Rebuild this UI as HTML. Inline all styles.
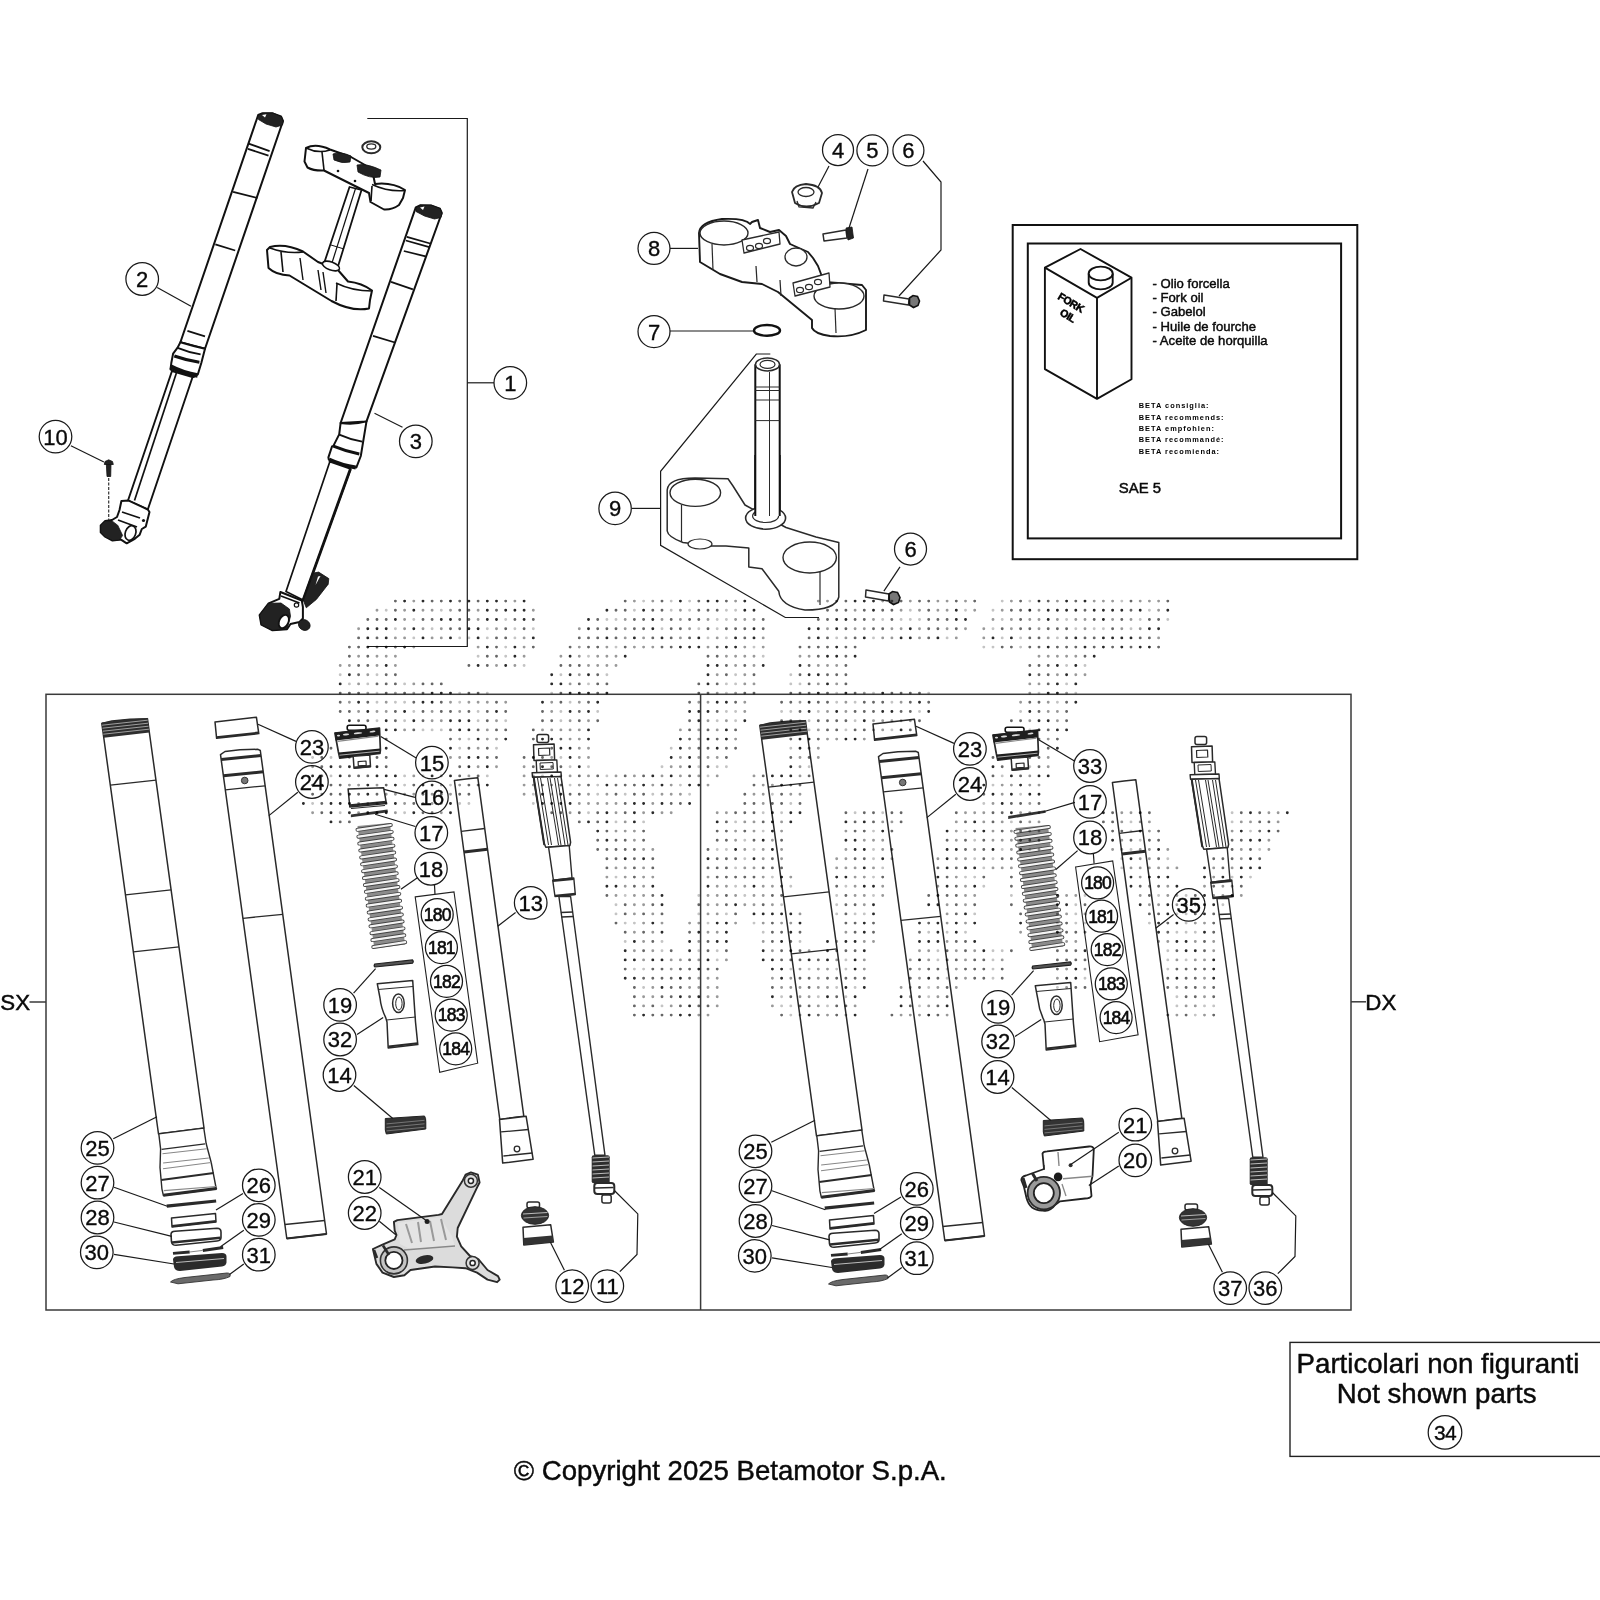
<!DOCTYPE html>
<html><head><meta charset="utf-8"><title>Fork parts diagram</title><style>
html,body{margin:0;padding:0;background:#fff;}
svg{display:block;}
.co{fill:#fff;stroke:#1a1a1a;stroke-width:1.25;}
.cn{font-family:"Liberation Sans",sans-serif;text-anchor:middle;fill:#0a0a0a;stroke:#0a0a0a;stroke-width:0.35;}
.tx{font-family:"Liberation Sans",sans-serif;fill:#0a0a0a;stroke:#0a0a0a;stroke-width:0.45;}
.ld{fill:none;stroke:#1a1a1a;stroke-width:1.2;}
.fr{fill:none;stroke:#3a3a3a;stroke-width:1.5;}
.bx{fill:none;stroke:#111;stroke-width:2;}
.bx2{fill:none;stroke:#222;stroke-width:1.4;}
.bxl{fill:none;stroke:#222;stroke-width:1.1;}
.pt{fill:#fff;stroke:#2a2a2a;stroke-width:1.4;stroke-linejoin:round;}
.wf{fill:#fff;stroke:none;}
.fl{stroke:none;}
.dk{fill:#222;stroke:#111;stroke-width:0.8;}
.ln{fill:none;stroke:#2a2a2a;stroke-width:1.2;}
.lg{fill:none;stroke:#888;stroke-width:1.1;}
.lw{fill:none;stroke:#bbb;stroke-width:1;}
.dsh{fill:none;stroke:#333;stroke-width:1.2;stroke-dasharray:3 1.5;}
.sp ellipse{fill:none;stroke:#3a3a3a;stroke-width:3.8;}
.sp2 ellipse{fill:none;stroke:#f2f2f2;stroke-width:1.3;}
.wm path{fill:none;stroke-width:2.9;stroke-linecap:round;mix-blend-mode:multiply;}
.fk{fill:#fff;stroke:#111;stroke-width:2;stroke-linejoin:round;}
.fkl{fill:none;stroke:#111;stroke-width:1.8;}
.can{fill:none;stroke:#111;stroke-width:1.9;stroke-linejoin:round;}
</style></head>
<body>
<svg width="1600" height="1600" viewBox="0 0 1600 1600">
<defs></defs>
<rect x="46" y="694.3" width="1305" height="615.7" class="fr"/>
<path d="M700.6,694.3 L700.6,1310" class="fr"/>
<path d="M29.5,1002 L46,1002" class="fr"/>
<path d="M1351,1001.8 L1366,1001.8" class="fr"/>
<text x="0.3" y="1010.2" class="tx" style="font-size:22.3px">SX</text>
<text x="1365.3" y="1010.4" class="tx" style="font-size:22.3px">DX</text>
<path d="M367.3,118.5 L467.3,118.5 L467.3,646.5 L367.5,646.5" class="ld"/>
<path d="M467.3,382.8 L494,382.8" class="ld"/>
<circle cx="510.3" cy="382.8" r="16.3" class="co"/>
<text x="510.3" y="390.7" class="cn" style="font-size:22px;letter-spacing:0px">1</text>
<rect x="1012.7" y="225" width="344.6" height="334.2" class="bx"/>
<rect x="1027.8" y="243.5" width="313.3" height="294.9" class="bx"/>
<rect x="1290" y="1342.4" width="330" height="114" class="bx2"/>
<text x="1296.6" y="1372.6" class="tx" style="font-size:27.65px">Particolari non figuranti</text>
<text x="1336.8" y="1403.2" class="tx" style="font-size:27.65px">Not shown parts</text>
<circle cx="1445" cy="1432.4" r="16.8" class="co"/>
<text x="1445" y="1439.9" class="cn" style="font-size:21px;letter-spacing:-0.6px">34</text>
<text x="513.8" y="1480.4" class="tx" style="font-size:27.6px">© Copyright 2025 Betamotor S.p.A.</text>
<path d="M258.2,115 L262,113.3 L272,113.2 L281,116.5 L283,121 L205,348.8 L180.4,342.2Z" class="fk"/>
<path d="M258.5,115.5 L263,113.2 L273,113 L281.5,116.8 L283.2,121.5 L282.5,125 L276,127 L266,124 L258.5,119.5Z" class="dk"/>
<path d="M262,115 L266.5,114.2 L265,117.5Z" fill="#fff"/>
<path d="M248.6,143.6 L269.6,151.1" class="fkl"/>
<path d="M247.9,148.9 L268.5,155.6" class="fkl"/>
<path d="M233.1,191.9 L257.5,198" class="fkl"/>
<path d="M215.3,244.4 L235.2,250.5" class="fkl"/>
<path d="M187.4,330.8 L205,336.4" class="fkl"/>
<path d="M180.4,342.2 L177.6,347.6 L173.1,353.6 L171.3,363 L170.5,369.4 Q180,375.5 193.8,376.9 L197.8,374.5 L201.3,363 L205,348.8 Q193,346 180.4,342.2Z" class="fk"/>
<path d="M177.6,347.8 Q189,352.5 200.6,354.4" class="fkl"/>
<path d="M174.3,356 Q187,360.5 199.4,362.2" class="fkl" style="stroke-width:3"/>
<path d="M170.6,366.5 Q183,373 197.6,375.5" class="fkl" style="stroke-width:4.5"/>
<path d="M172,371 L192.6,377 L147.8,509.5 L128,500.5Z" class="fk" style="stroke-width:1.9;"/>
<path d="M176.4,373 L134.5,500.5" class="fkl" style="stroke-width:1.7"/>
<path d="M121.4,501 L128.7,500.6 L147.8,509.5 L149.5,512 L145.8,526.6 L141.8,529 L139.7,534.7 L134.8,538.8 L126.7,543.3 L121,539.6 L112.5,540.5 L105.2,536.7 L100.7,532.3 L100.7,525.4 L105.2,520.9 L112,520 L117,517 L119.5,510Z" class="fk"/>
<path d="M100.7,525.4 L105.2,520.9 L112,520.9 L117.8,525.4 L122.6,535.5 L119.4,540 L112.5,540.5 L105.2,537 L100.7,532.3Z" class="dk"/>
<ellipse cx="130.5" cy="533" rx="5.2" ry="7.5" transform="rotate(20 130.5 533)" class="fk" style="stroke-width:1.7"/>
<path d="M122,512 L140,518" class="fkl" style="stroke-width:1.8"/>
<path d="M118,520 L137,527" class="fkl" style="stroke-width:1.8"/>
<circle cx="143.5" cy="520.5" r="1.6" fill="#111"/>
<path d="M106.3,463.5 L111,463.5 L110.7,476.5 L107,476.5Z" class="dk"/>
<path d="M104.3,464.5 L105,461.5 L108.7,459.8 L112.5,461.5 L113.3,464.5Z" class="dk"/>
<path d="M108.7,478 L108.7,520" class="dsh"/>
<circle cx="55.5" cy="436.6" r="16.3" class="co"/>
<text x="55.5" y="444.5" class="cn" style="font-size:22px;letter-spacing:0px">10</text>
<path d="M70.9,445.8 L103.9,462" class="ld"/>
<path d="M415.8,207.3 L420,205.3 L431,205.5 L440,208.8 L441.8,213 L366.5,421.4 L340.6,423Z" class="fk"/>
<path d="M416,208 L420.5,205.2 L431,205.1 L440.2,208.6 L442,213.5 L441,217.5 L434.5,219 L424.5,216 L416,211.5Z" class="dk"/>
<path d="M420,207.5 L424.5,206.6 L423,210Z" fill="#fff"/>
<path d="M406.8,236.8 L430.2,243.5" class="fkl"/>
<path d="M405.8,240.5 L429.3,247.2" class="fkl"/>
<path d="M403.8,251 L425.6,256.3" class="fkl"/>
<path d="M391,281.8 L412.9,289.3" class="fkl"/>
<path d="M373,335.8 L394.9,342.5" class="fkl"/>
<path d="M343.8,423.5 L364.2,428.8" class="fkl"/>
<path d="M340.6,423 L339.2,434.4 L333.4,445.9 L332,446.5 L328.4,457.4 L328.8,459.5 Q340,466 356.4,467.4 L360.8,456 L366.5,421.4 Q354,425 340.6,423Z" class="fk"/>
<path d="M339.2,434.6 Q350,439.5 362.2,441.6" class="fkl"/>
<path d="M333.4,446.2 Q346,451.5 359.3,454" class="fkl" style="stroke-width:3"/>
<path d="M329.1,459.5 Q342,465.5 355.7,467.4" class="fkl" style="stroke-width:4"/>
<path d="M329.8,461.7 L350.7,468.9 L303,600 L286,591.5Z" class="fk" style="stroke-width:1.7;"/>
<path d="M350.4,469 L302.8,601" class="fkl" style="stroke-width:2.8"/>
<path d="M313.6,573 L318.6,572.1 L328.8,578.6 L328.2,584.2 L316.4,599.4 L306.3,607.8 L303.4,600.5Z" class="dk"/>
<path d="M318,576.5 L320.5,576 L315.5,585Z" fill="#fff"/>
<path d="M280.4,592 L301.8,600.5 L302.9,607 L302.9,618.5 L299.5,622 L290.5,624 L287,629.2 L272.5,630.3 L261.3,624.7 L259.6,615 L268.6,603.3 L279.3,598.8Z" class="fk"/>
<path d="M259.6,615 L268.6,603.3 L281,603 L289.4,609 L290.5,616.3 L287,629.2 L272.5,630.3 L261.3,624.7Z" class="dk"/>
<ellipse cx="283.8" cy="621.5" rx="4.6" ry="7" transform="rotate(25 283.8 621.5)" class="fk" style="stroke-width:1.8"/>
<path d="M281,596 L299.5,603" class="fkl" style="stroke-width:1.6"/>
<circle cx="296.5" cy="605" r="2.2" class="fk" style="stroke-width:1.2"/>
<ellipse cx="304.3" cy="625" rx="6" ry="5.2" transform="rotate(30 304.3 625)" class="dk"/>
<path d="M306,148 Q316,143 330,149.5 L351,157 L372,169 L375,184 Q392,182 405,190 L403,198 L399,205 Q392,210 384,209.5 L370.5,202 L369,193 L324,170.5 Q314,171 307.5,167.5 L304.5,161.5Z" class="fk"/>
<path d="M306,148 Q318,154 330,150" class="fkl" style="stroke-width:1.5"/>
<path d="M372,184.5 Q388,192 405,190.5" class="fkl" style="stroke-width:1.5"/>
<path d="M322,152 L324,170" class="fkl" style="stroke-width:1.6"/>
<path d="M372,186 L371,201" class="fkl" style="stroke-width:1.6"/>
<path d="M333,154 Q340,151 351,156 L350,162 Q342,164 334,160Z" class="dk"/>
<path d="M357,165 Q366,163 381,170 L380,177 Q370,179 358,172Z" class="dk"/>
<circle cx="338" cy="171" r="1.3" fill="#111"/><circle cx="355" cy="181" r="1.3" fill="#111"/>
<path d="M349.5,187 L361.5,190 L337.5,268 L324,263.5Z" class="fk" style="stroke-width:1.8;"/>
<path d="M355.5,188.5 L331,266" class="fkl" style="stroke-width:1.2"/>
<path d="M331,245 L344,249" class="fkl" style="stroke-width:1"/>
<path d="M270,247 Q285,243 303,251.5 L318,262 L337.5,269.5 L348,281.5 Q362,283 372,290.5 L370,300 L369,308.5 Q352,312 331.5,301 L289.5,275.5 Q276,275 268.5,268 L267,250Z" class="fk"/>
<path d="M270,248 Q286,254 303,252" class="fkl" style="stroke-width:1.5"/>
<path d="M336,283 Q352,291 372,291" class="fkl" style="stroke-width:1.5"/>
<ellipse cx="331" cy="266" rx="9" ry="4" transform="rotate(20 331 266)" class="fk" style="stroke-width:1.6"/>
<path d="M281,252 L283,272" class="fkl" style="stroke-width:1.6"/>
<path d="M300,258 L303,280" class="fkl" style="stroke-width:1.4"/>
<path d="M318,270 L321,290" class="fkl" style="stroke-width:1.4"/>
<path d="M323,272 L326,293" class="fkl" style="stroke-width:1.4"/>
<path d="M337,284 L336,301" class="fkl" style="stroke-width:1.6"/>
<ellipse cx="371.3" cy="147.3" rx="9" ry="6" class="pt" style="stroke-width:2"/>
<ellipse cx="371.3" cy="146.5" rx="4.5" ry="2.6" class="pt" style="stroke-width:1.3"/>
<circle cx="142.2" cy="279" r="16.3" class="co"/>
<text x="142.2" y="286.9" class="cn" style="font-size:22px;letter-spacing:0px">2</text>
<path d="M157.2,287.5 L191,306.3" class="ld"/>
<circle cx="415.8" cy="441.3" r="16.3" class="co"/>
<text x="415.8" y="449.2" class="cn" style="font-size:22px;letter-spacing:0px">3</text>
<path d="M402.5,427.3 L374.5,413.3" class="ld"/>
<circle cx="838" cy="150" r="15.5" class="co"/>
<text x="838" y="157.9" class="cn" style="font-size:22px;letter-spacing:0px">4</text>
<circle cx="872.4" cy="150.4" r="15.5" class="co"/>
<text x="872.4" y="158.3" class="cn" style="font-size:22px;letter-spacing:0px">5</text>
<circle cx="908.4" cy="150.4" r="15.5" class="co"/>
<text x="908.4" y="158.3" class="cn" style="font-size:22px;letter-spacing:0px">6</text>
<path d="M829,166 L817,189" class="ld"/>
<path d="M868,169 L849,228" class="ld"/>
<path d="M923,161 L941,182 L941,250 L899,296" class="ld"/>
<path d="M792,192 Q794,185 806,184 Q820,185 822,193 L819,203 Q806,210 795,203Z" class="pt" style="stroke-width:1.8"/>
<ellipse cx="806" cy="192" rx="8" ry="4.5" class="pt" style="stroke-width:1.3"/>
<path d="M797,201 L799,207 L813,208 L816,202" class="ln" style="stroke-width:1.3"/>
<path d="M823,234 L846,230 L847,238 L824,241Z" class="pt" style="stroke-width:1.5;"/>
<path d="M846,228 L852,227 L853.5,238 L848,240Z" class="dk"/>
<path d="M884,295 L909,299 L908.5,305 L883.5,301Z" class="pt" style="stroke-width:1.5;"/>
<path d="M909.5,298 L913,295.5 L917.5,296.5 L919.5,301 L918,305.5 L913.5,307.5 L909.5,305Z" style="fill:#777;stroke:#111;stroke-width:1.6"/>
<circle cx="654" cy="248.4" r="16" class="co"/>
<text x="654" y="256.3" class="cn" style="font-size:22px;letter-spacing:0px">8</text>
<path d="M670,248.4 L698,248.4" class="ld"/>
<path d="M699,233 Q700,222 722,219 Q745,218 750,224 L752,222 L758,220 L760,228 L770,232 L779,230 L786,236 L790,244 L808,252 L813,258 L818,266 L824,282 L838,283 L862,285 L866,290 L866,330 Q850,338 830,336 Q815,334 812,328 L812,320 L795,306 L778,292 L762,284 L742,282 L720,274 L700,262 Z" class="pt" style="stroke-width:1.9;stroke:#1a1a1a"/>
<ellipse cx="724" cy="233" rx="24" ry="12" class="pt" style="stroke-width:1.4"/>
<ellipse cx="839" cy="296" rx="25" ry="13" class="pt" style="stroke-width:1.4"/>
<path d="M712,244 L713,270" class="ln" style="stroke-width:1.2"/>
<path d="M835,308 L836,333" class="ln" style="stroke-width:1.2"/>
<ellipse cx="796" cy="257" rx="11" ry="9" class="pt" style="stroke-width:1.3"/>
<path d="M742,240 L779,232 L780,244 L744,253Z" class="pt" style="stroke-width:1.3;"/>
<path d="M793,283 L829,273 L830,287 L795,296Z" class="pt" style="stroke-width:1.3;"/>
<ellipse cx="750" cy="248" rx="3.5" ry="2.6" class="pt" style="stroke-width:1.2"/>
<ellipse cx="759" cy="246" rx="3.5" ry="2.6" class="pt" style="stroke-width:1.2"/>
<ellipse cx="767" cy="241" rx="3.5" ry="2.6" class="pt" style="stroke-width:1.2"/>
<ellipse cx="800" cy="290" rx="3.5" ry="2.6" class="pt" style="stroke-width:1.2"/>
<ellipse cx="809" cy="287" rx="3.5" ry="2.6" class="pt" style="stroke-width:1.2"/>
<ellipse cx="818" cy="282" rx="3.5" ry="2.6" class="pt" style="stroke-width:1.2"/>
<path d="M756,266 L757,282" class="ln" style="stroke-width:1.2"/>
<path d="M780,280 L781,296" class="ln" style="stroke-width:1.2"/>
<circle cx="654" cy="331.6" r="16" class="co"/>
<text x="654" y="339.5" class="cn" style="font-size:22px;letter-spacing:0px">7</text>
<path d="M670,331 L754,331" class="ld"/>
<ellipse cx="767" cy="330.4" rx="13" ry="5.4" class="pt" style="stroke-width:2.4;stroke:#111"/>
<path d="M770.3,354 L756.3,354 L660.6,471.3 L660.6,545.3 L785.3,617.5 L819,617.5" class="ld"/>
<path d="M632,508.4 L660.6,508.4" class="ld"/>
<circle cx="615.1" cy="508.4" r="16.2" class="co"/>
<text x="615.1" y="516.3" class="cn" style="font-size:22px;letter-spacing:0px">9</text>
<path d="M755.3,365 L755.3,518 L779.7,518 L779.7,365Z" class="fk" style="stroke-width:2;"/>
<ellipse cx="767.5" cy="364.4" rx="12" ry="6.5" class="pt" style="stroke-width:1.5"/>
<ellipse cx="767.5" cy="364.4" rx="7.5" ry="4" class="pt" style="stroke-width:1.2"/>
<path d="M755.3,387 L779.7,387" class="ln" style="stroke-width:1"/>
<path d="M755.3,390.5 L779.7,390.5" class="ln" style="stroke-width:1"/>
<path d="M755.3,400 L779.7,400" class="ln" style="stroke-width:1"/>
<path d="M755.3,420.6 L779.7,420.6" class="ln" style="stroke-width:1"/>
<path d="M755.3,484.4 L779.7,484.4" class="ln" style="stroke-width:1"/>
<path d="M769.5,372 L769.5,518" class="ln" style="stroke-width:1"/>
<path d="M667.2,490 Q668,478 695,478 L728,478.8 L733,486 L745,505 L786,527.5 L816,537 L838.8,542.5 L838.8,597 Q836,610 805,610 Q780,606 778.8,591.3 L762,568.8 L748.8,567 L748.8,548 L726,546 L711,546 L683,542.5 Q668,537 667.2,531Z" class="pt" style="stroke-width:1.5"/>
<ellipse cx="695.3" cy="492.8" rx="25.3" ry="13.6" class="pt" style="stroke-width:1.4"/>
<ellipse cx="809.7" cy="557.5" rx="26.7" ry="15.5" class="pt" style="stroke-width:1.4"/>
<ellipse cx="765.6" cy="518" rx="20" ry="11.2" class="pt" style="stroke-width:1.6"/>
<ellipse cx="765.6" cy="516" rx="13" ry="6.5" class="pt" style="stroke-width:1.2"/>
<path d="M755.3,455 L755.3,516 L779.7,516 L779.7,455Z" class="wf"/>
<path d="M755.3,455 L755.3,516" class="fkl" style="stroke-width:2"/>
<path d="M779.7,455 L779.7,516" class="fkl" style="stroke-width:2"/>
<path d="M769.5,455 L769.5,516" class="ln" style="stroke-width:1"/>
<path d="M681.5,505 L681.5,541" class="ln" style="stroke-width:1.2"/>
<path d="M820,572 L820,605" class="ln" style="stroke-width:1.2"/>
<ellipse cx="700" cy="544" rx="12" ry="5" class="pt" style="stroke-width:1.2"/>
<circle cx="910.5" cy="549" r="16" class="co"/>
<text x="910.5" y="556.9" class="cn" style="font-size:22px;letter-spacing:0px">6</text>
<path d="M900,566.9 L883.9,591.2" class="ld"/>
<path d="M866,590 L889,594 L888.5,601 L865.5,597Z" class="pt" style="stroke-width:1.5;"/>
<path d="M889,594 L892.5,591.5 L897.5,592.5 L900,597.5 L898.5,602.5 L893.5,604.5 L889.5,602Z" style="fill:#777;stroke:#111;stroke-width:1.6"/>
<path d="M1044.9,267.6 L1080.5,249 L1131.5,277.7 L1131.5,379.2 L1097,398.9 L1044.9,369.1Z" class="can"/>
<path d="M1044.9,267.6 L1097,297.9 L1131.5,277.7" class="can"/>
<path d="M1097,297.9 L1097,398.9" class="can"/>
<path d="M1088.7,273.5 L1088.7,282.5 A12,6.9 0 0 0 1112.7,282.5 L1112.7,273.5" class="can" style="fill:#fff"/>
<ellipse cx="1100.7" cy="273.5" rx="12" ry="6.9" class="can" style="fill:#fff"/>
<text x="1057" y="298.5" transform="rotate(31 1057 298.5)" style="font:bold 10.5px 'Liberation Sans', sans-serif;letter-spacing:-0.4px;stroke:#000;stroke-width:0.5">FORK</text>
<text x="1059" y="314.5" transform="rotate(31 1059 314.5)" style="font:bold 10.5px 'Liberation Sans', sans-serif;letter-spacing:-0.4px;stroke:#000;stroke-width:0.5">OIL</text>
<text x="1152.6" y="287.5" class="tx" style="font-size:13.1px">- Olio forcella</text>
<text x="1152.6" y="301.8" class="tx" style="font-size:13.1px">- Fork oil</text>
<text x="1152.6" y="316.3" class="tx" style="font-size:13.1px">- Gabelol</text>
<text x="1152.6" y="330.7" class="tx" style="font-size:13.1px">- Huile de fourche</text>
<text x="1152.6" y="345.2" class="tx" style="font-size:13.1px">- Aceite de horquilla</text>
<text x="1138.7" y="408.2" style="font:bold 7.4px 'Liberation Sans', sans-serif;letter-spacing:1.0px">BETA consiglia:</text>
<text x="1138.7" y="419.8" style="font:bold 7.4px 'Liberation Sans', sans-serif;letter-spacing:1.0px">BETA recommends:</text>
<text x="1138.7" y="430.9" style="font:bold 7.4px 'Liberation Sans', sans-serif;letter-spacing:1.0px">BETA empfohlen:</text>
<text x="1138.7" y="442.4" style="font:bold 7.4px 'Liberation Sans', sans-serif;letter-spacing:1.0px">BETA recommandé:</text>
<text x="1138.7" y="454" style="font:bold 7.4px 'Liberation Sans', sans-serif;letter-spacing:1.0px">BETA recomienda:</text>
<text x="1118.8" y="493.3" class="tx" style="font-size:14.9px">SAE 5</text>
<g>
<path d="M101.8,723.5 L112,721 L130,719.3 L147.5,718.8 L147.5,719 L204,1128 L158.5,1134Z" class="pt" style="stroke-width:1.5;"/>
<path d="M101.7,722.5 L125,719.5 L147.5,718.3 L147.2,716.5 L149.4,732.5 L103.8,737.8Z" class="fl" style="fill:#2e2e2e;"/>
<path d="M102.1,725.2 L147.7,720.2" class="lw" style="stroke-width:0.8"/>
<path d="M102.5,728.2 L148.1,723.2" class="lw" style="stroke-width:0.8"/>
<path d="M102.9,731.2 L148.5,726.2" class="lw" style="stroke-width:0.8"/>
<path d="M103.3,734.2 L148.9,729.2" class="lw" style="stroke-width:0.8"/>
<path d="" />
<path d="M110.3,785.2 L156,780.2" class="ln" style="stroke-width:1.3"/>
<path d="M125.5,894.8 L171.1,889.8" class="ln" style="stroke-width:1.3"/>
<path d="M133.3,951.9 L179,946.9" class="ln" style="stroke-width:1.3"/>
<path d="M158.8,1133.8 L203.8,1128.1 L206.2,1143.8 L211.2,1162.5 L216,1187.5 L216.5,1188.8 L163.4,1195.6 L161.9,1188.8 L160,1167.5 L160.6,1148.8Z" class="pt" style="stroke-width:1.4;"/>
<path d="M161.6,1149.4 L205,1143.8" class="ln" style="stroke-width:1.2"/>
<path d="M162.5,1153.8 L206.9,1148.8" class="lg"/>
<path d="M163.1,1163 L208.8,1158" class="lg"/>
<path d="M163,1168.8 L211.2,1162.5" class="lg"/>
<path d="M161.2,1180 L213.8,1173" class="ln" style="stroke-width:2.2"/>
<path d="M163.8,1190.6 L216.2,1186.5" class="lg"/>
<path d="M163.4,1195.3 L216.5,1188.5" class="ln" style="stroke-width:3"/>
<path d="M220.5,754.7 L225,751.5 L240,749.8 L258,749.3 L260.3,750.5 L326.5,1234 L286.8,1238.5Z" class="pt" style="stroke-width:1.5;"/>
<path d="M221.2,759.5 L261,755.5" class="ln" style="stroke-width:3"/>
<path d="M223.4,775.8 L263.2,771.8" class="ln" style="stroke-width:3"/>
<path d="M225.3,789.8 L265.1,785.8" class="ln" style="stroke-width:1.3"/>
<circle cx="244.7" cy="780.5" r="3.3" style="fill:#777;stroke:#333;stroke-width:1"/>
<path d="M242.9,918.3 L282.7,914.3" class="ln" style="stroke-width:1.3"/>
<path d="M284.9,1224.5 L324.7,1220.5" class="ln" style="stroke-width:1.3"/>
<path d="M286.8,1238.5 L326.5,1234" class="ln" style="stroke-width:2"/>
<path d="M166.5,1204.5 L216,1199.5 L216.3,1202.5 L167,1207.8Z" class="fl" style="fill:#2a2a2a;"/>
<path d="M171.5,1218 L215.5,1213.5 L216,1222 L172,1227Z" class="pt" style="stroke-width:1.5;"/>
<path d="M172,1226.2 L216,1221.2" class="ln" style="stroke-width:2.2"/>
<path d="M171,1234.5 Q171,1231.5 175,1231.3 L217,1228.3 Q221,1228.5 221,1232 L221,1237.5 Q221,1240.5 217,1241 L176,1245.3 Q172,1245.3 171.5,1242Z" class="pt" style="stroke-width:1.6"/>
<path d="M172,1242.5 L220.5,1237.8" class="ln" style="stroke-width:2.5"/>
<path d="M173,1253.4 L189.7,1252" class="ln" style="stroke-width:2.8"/>
<path d="M202.8,1250.4 L223.2,1247.6" class="ln" style="stroke-width:3"/>
<path d="M189.7,1252 L202.8,1250.4" class="lg" style="stroke-width:1"/>
<path d="M173,1259.5 Q173,1256.5 178,1256.2 L222,1253 Q226.5,1253.2 226.5,1256.5 L226.5,1262.5 Q226,1266 222,1266.5 L180,1271 Q175,1271 174,1267Z" class="fl" style="fill:#2b2b2b"/>
<path d="M176,1262.5 L224,1258.5" class="lw" style="stroke-width:1.2"/>
<path d="M170.5,1282 Q173,1279 185,1277.5 L227,1273 Q231,1273 230,1276.5 Q224,1279.5 213,1280 L178,1283.8Z" style="fill:#6a6a6a;stroke:#333;stroke-width:0.9"/>
<path d="M215,721.9 L256.4,717.2 L258.8,733.6 L216.6,738.3Z" class="pt" style="stroke-width:1.5;"/>
<path d="M216.4,737.3 L258.6,732.6" class="ln" style="stroke-width:2"/>
<path d="M454.4,780.5 L466,779 L477.8,777.7 L523.8,1116.2 L499.8,1119.5Z" class="pt" style="stroke-width:1.5;"/>
<path d="M461.2,831.3 L484.7,828.5" class="ln" style="stroke-width:1.3"/>
<path d="M464,852 L487.5,849.2" class="ln" style="stroke-width:3"/>
<path d="M499.5,1119.4 L526.1,1116.2 L533.1,1159.2 L502.7,1163.1Z" class="pt" style="stroke-width:1.5;"/>
<path d="M501.1,1131.9 L528.4,1129.5" class="ln" style="stroke-width:1.3"/>
<path d="M503.4,1156 L532.3,1153" class="ln" style="stroke-width:1.3"/>
<circle cx="517" cy="1149" r="2.8" class="pt" style="stroke-width:1.3"/>
<rect x="537" y="734.4" width="11.6" height="8" rx="2" class="pt" style="stroke-width:1.5"/>
<path d="M533.5,744.7 L554.1,744 L554.6,759.9 L534,760.5Z" class="pt" style="stroke-width:1.5;"/>
<path d="M538.5,748.5 L549.5,748 L549.8,755 L538.8,755.5Z" class="pt" style="stroke-width:1.2;"/>
<path d="M536.2,760.5 L556.8,759.9 L557.5,772.2 L536.8,772.8Z" class="pt" style="stroke-width:1.4;"/>
<path d="M540,763 L553,762.5 L553.3,769 L540.3,769.5Z" class="pt" style="stroke-width:1;"/>
<path d="M532.1,772.8 L561,772 L561.3,776.4 L532.5,777.2Z" class="pt" style="stroke-width:1.4;"/>
<path d="M533.5,777.2 L561,776.4 L570.6,842.3 L569.9,845.5 L545.8,847.3 L544,843Z" class="pt" style="stroke-width:1.5;"/>
<path d="M537.5,778 L548.5,845" class="ln" style="stroke-width:1.0"/>
<path d="M540.5,778 L551.5,845" class="ln" style="stroke-width:1.0"/>
<path d="M547.5,778 L558.5,845" class="ln" style="stroke-width:1.0"/>
<path d="M550,778 L561,845" class="ln" style="stroke-width:1.0"/>
<path d="M554.5,778 L565,845" class="ln" style="stroke-width:1.0"/>
<path d="M557.5,778 L568,845" class="ln" style="stroke-width:1.0"/>
<path d="M533.8,778 L544.3,845" class="ln" style="stroke-width:2"/>
<path d="M548.6,847.3 L569.2,845.5 L572,878 L553.4,880.1Z" class="pt" style="stroke-width:1.4;"/>
<path d="M552.7,880.1 L573.8,878 L575.3,894.5 L555,896.5Z" class="pt" style="stroke-width:1.4;"/>
<path d="M552.8,881 L573.8,879" class="ln" style="stroke-width:2.2"/>
<path d="M555,895.8 L575.3,893.8" class="ln" style="stroke-width:2.2"/>
<path d="M558.9,896.5 L570.6,896.5 L605,1155.3 L594.8,1155.3Z" class="pt" style="stroke-width:1.4;"/>
<path d="M560.9,912.5 L572.8,912" class="ln" style="stroke-width:1.3"/>
<path d="M561.6,917 L573.4,916.5" class="ln" style="stroke-width:1.3"/>
<rect x="591.7" y="1155.3" width="18" height="28" rx="2" style="fill:#2e2e2e"/>
<path d="M592.5,1158 L609,1157" class="lw" style="stroke-width:1"/>
<path d="M592.5,1162 L609,1161" class="lw" style="stroke-width:1"/>
<path d="M592.5,1166 L609,1165" class="lw" style="stroke-width:1"/>
<path d="M592.5,1170 L609,1169" class="lw" style="stroke-width:1"/>
<path d="M592.5,1174 L609,1173" class="lw" style="stroke-width:1"/>
<path d="M592.5,1178 L609,1177" class="lw" style="stroke-width:1"/>
<rect x="594.3" y="1183" width="20" height="11" rx="3" class="pt" style="stroke-width:2"/>
<path d="M595,1188 L613.5,1187.5" class="ln" style="stroke-width:1.5"/>
<rect x="601.9" y="1195" width="9.3" height="8" rx="2" class="pt" style="stroke-width:1.5"/>
<rect x="527" y="1202" width="12.5" height="6" rx="2" class="pt" style="stroke-width:1.5"/>
<ellipse cx="535" cy="1215.5" rx="13.6" ry="8.8" style="fill:#333;stroke:#222;stroke-width:1"/>
<path d="M523,1214 L547.5,1212.5" class="lw" style="stroke-width:1.2"/>
<path d="M523.5,1218 L547.5,1216.5" class="lw" style="stroke-width:0.8"/>
<path d="M523,1227.2 L550.7,1224.8 L553.4,1242 L523.8,1245Z" class="pt" style="stroke-width:1.5;"/>
<path d="M523.5,1238 L552.3,1235.5 L553.4,1242 L523.8,1245Z" class="fl" style="fill:#333;"/>
<rect x="347.2" y="725.3" width="18.8" height="5" rx="2" class="pt" style="stroke-width:1.6;stroke:#111"/>
<path d="M334.9,733 L379.5,728.1 L380.4,750 L380,753.3 L339.8,758.2 L338.4,752Z" class="pt" style="stroke-width:1.7;"/>
<path d="M334.9,732.6 L379.5,727.8 L379.8,735.5 L335.5,740.5Z" class="fl" style="fill:#1e1e1e;"/>
<ellipse cx="338.5" cy="735.6" rx="1.6" ry="0.9" transform="rotate(-6 338.5 735.6)" fill="#ddd"/>
<ellipse cx="346" cy="734.5" rx="3.2" ry="0.9" transform="rotate(-6 346 734.5)" fill="#ddd"/>
<ellipse cx="358" cy="733.2" rx="4.2" ry="0.9" transform="rotate(-6 358 733.2)" fill="#ddd"/>
<ellipse cx="372.5" cy="731.6" rx="3.0" ry="0.9" transform="rotate(-6 372.5 731.6)" fill="#ddd"/>
<path d="M337.5,741.3 L378.4,736.2" class="lg" style="stroke-width:1.2"/>
<path d="M338.6,752.5 L380.2,748.6 L380,753.3 L339.8,758.2Z" class="fl" style="fill:#1e1e1e;"/>
<path d="M339.5,755.2 L379.5,751.2" class="lw" style="stroke-width:0.9"/>
<path d="M353.2,756.3 L369.8,755.1 L370.5,766.8 L354,768.3Z" class="pt" style="stroke-width:1.5;"/>
<path d="M358.1,761.6 L366,761 L366.2,765.4 L358.3,765.9Z" class="pt" style="stroke-width:1.2;"/>
<path d="M354,767.6 L370.5,766.2" class="ln" style="stroke-width:2.2"/>
<path d="M357.5,826 L389.9,823 L405.1,944.5 L374.3,948.5Z" style="fill:#8c8c8c;stroke:none"/>
<path d="M357.5,829.8 L390.8,825.0 M358.4,836.7 L391.7,831.9 M359.3,843.6 L392.5,838.8 M360.3,850.5 L393.4,845.7 M361.2,857.4 L394.2,852.6 M362.1,864.3 L395.0,859.5 M363.1,871.2 L395.9,866.4 M364.0,878.1 L396.7,873.3 M364.9,885.0 L397.6,880.2 M365.9,891.8 L398.4,887.0 M366.8,898.7 L399.3,893.9 M367.7,905.6 L400.1,900.8 M368.7,912.5 L401.0,907.7 M369.6,919.4 L401.8,914.6 M370.5,926.3 L402.6,921.5 M371.5,933.2 L403.5,928.4 M372.4,940.1 L404.3,935.3 M373.3,947.0 L405.2,942.2" style="fill:none;stroke:#444;stroke-width:4.0;stroke-linecap:round"/>
<path d="M357.5,829.8 L390.8,825.0 M358.4,836.7 L391.7,831.9 M359.3,843.6 L392.5,838.8 M360.3,850.5 L393.4,845.7 M361.2,857.4 L394.2,852.6 M362.1,864.3 L395.0,859.5 M363.1,871.2 L395.9,866.4 M364.0,878.1 L396.7,873.3 M364.9,885.0 L397.6,880.2 M365.9,891.8 L398.4,887.0 M366.8,898.7 L399.3,893.9 M367.7,905.6 L400.1,900.8 M368.7,912.5 L401.0,907.7 M369.6,919.4 L401.8,914.6 M370.5,926.3 L402.6,921.5 M371.5,933.2 L403.5,928.4 M372.4,940.1 L404.3,935.3 M373.3,947.0 L405.2,942.2" style="fill:none;stroke:#f4f4f4;stroke-width:2.2;stroke-linecap:round"/>
<path d="M374.7,964 L412.5,960 Q414,961.5 412.5,963.2 L375,967 Q373.5,966 374.7,964Z" style="fill:#555;stroke:#222;stroke-width:1.2"/>
<path d="M377.3,983.8 L412.7,980.5 L414,1000 L415.5,1022 L417.8,1044.6 L388.2,1048 L387,1022 L385.7,1017.6 Q381,1008 380,998Z" class="pt" style="stroke-width:1.5"/>
<path d="M378,989.5 L413,986.5" class="ln" style="stroke-width:1.2"/>
<path d="M386.5,1020 L415.5,1017" class="ln" style="stroke-width:1"/>
<path d="M388.5,1046.5 L417.5,1043.3" class="ln" style="stroke-width:2"/>
<ellipse cx="398.4" cy="1003.2" rx="5.8" ry="9.3" class="pt" style="stroke-width:1.5"/>
<ellipse cx="398.9" cy="1003.5" rx="3.2" ry="6.5" class="pt" style="stroke-width:1"/>
<path d="M385.3,1118.5 L424.5,1116 Q426,1118 425.8,1122 L425.8,1129 L386.3,1134 Q384.8,1130 385.3,1126Z" style="fill:#333;stroke:#222;stroke-width:1"/>
<path d="M386.5,1123.9 L424.5,1120.3" class="lg" style="stroke-width:0.8"/>
<path d="M386.5,1127.4 L424.5,1123.8" class="lg" style="stroke-width:0.8"/>
<path d="M386.5,1130.9 L424.5,1127.3" class="lg" style="stroke-width:0.8"/>
<circle cx="311.9" cy="746.9" r="16.3" class="co"/>
<text x="311.9" y="754.8" class="cn" style="font-size:22px;letter-spacing:0px">23</text>
<circle cx="311.9" cy="782" r="16.3" class="co"/>
<text x="311.9" y="789.9" class="cn" style="font-size:22px;letter-spacing:0px">24</text>
<circle cx="340.1" cy="1004.9" r="16.3" class="co"/>
<text x="340.1" y="1012.8" class="cn" style="font-size:22px;letter-spacing:0px">19</text>
<circle cx="340.1" cy="1039.5" r="16.3" class="co"/>
<text x="340.1" y="1047.4" class="cn" style="font-size:22px;letter-spacing:0px">32</text>
<circle cx="339.5" cy="1075" r="16.3" class="co"/>
<text x="339.5" y="1082.9" class="cn" style="font-size:22px;letter-spacing:0px">14</text>
<path d="M296,741.4 L258,724.2" class="ld"/>
<path d="M297.8,792.2 L268.9,815.6" class="ld"/>
<circle cx="97.5" cy="1147.8" r="16.3" class="co"/>
<text x="97.5" y="1155.7" class="cn" style="font-size:22px;letter-spacing:0px">25</text>
<circle cx="97.5" cy="1182.7" r="16.3" class="co"/>
<text x="97.5" y="1190.6" class="cn" style="font-size:22px;letter-spacing:0px">27</text>
<circle cx="97.5" cy="1217.5" r="16.3" class="co"/>
<text x="97.5" y="1225.4" class="cn" style="font-size:22px;letter-spacing:0px">28</text>
<circle cx="96.8" cy="1252.3" r="16.3" class="co"/>
<text x="96.8" y="1260.2" class="cn" style="font-size:22px;letter-spacing:0px">30</text>
<circle cx="258.8" cy="1185.3" r="16.3" class="co"/>
<text x="258.8" y="1193.2" class="cn" style="font-size:22px;letter-spacing:0px">26</text>
<circle cx="258.8" cy="1219.8" r="16.3" class="co"/>
<text x="258.8" y="1227.7" class="cn" style="font-size:22px;letter-spacing:0px">29</text>
<circle cx="258.8" cy="1254.7" r="16.3" class="co"/>
<text x="258.8" y="1262.6" class="cn" style="font-size:22px;letter-spacing:0px">31</text>
<path d="M113.3,1138.8 L157,1116.7" class="ld"/>
<path d="M114,1187.2 L167.3,1206.3" class="ld"/>
<path d="M114,1222 L171.8,1236.3" class="ld"/>
<path d="M114,1254.3 L174,1264" class="ld"/>
<path d="M243,1193.5 L216,1210" class="ld"/>
<path d="M243.8,1230.3 L220.5,1246.8" class="ld"/>
<path d="M243.8,1264 L229.5,1274.5" class="ld"/>
<path d="M375.6,968.6 L353.6,993.1" class="ld"/>
<path d="M357,1034.5 L383.2,1017.6" class="ld"/>
<path d="M353.8,1085.5 L392.8,1118.5" class="ld"/>
<circle cx="530.7" cy="902.8" r="16.3" class="co"/>
<text x="530.7" y="910.7" class="cn" style="font-size:22px;letter-spacing:0px">13</text>
<path d="M515.6,912.4 L497.7,926.2" class="ld"/>
<circle cx="572.2" cy="1286.1" r="16.3" class="co"/>
<text x="572.2" y="1294" class="cn" style="font-size:22px;letter-spacing:0px">12</text>
<circle cx="607.3" cy="1286.1" r="16.3" class="co"/>
<text x="607.3" y="1294" class="cn" style="font-size:22px;letter-spacing:0px">11</text>
<path d="M564.4,1270.2 L550.3,1242" class="ld"/>
<path d="M619.8,1271.7 L637,1254.5 L637.8,1213.9 L614.4,1190.5" class="ld"/>
<path d="M348.1,788.9 L383.6,787.7 L386.4,803.5 L349.8,806.9Z" class="pt" style="stroke-width:1.5;"/>
<path d="M350,805.5 L386,802" class="ln" style="stroke-width:2.5"/>
<path d="M351,808.5 L385,805.5" class="ln" style="stroke-width:1.2"/>
<path d="M350.9,814.4 L387.5,809.6 L388,812.2 L350.9,817.2Z" class="fl" style="fill:#333;"/>
<circle cx="431.9" cy="762.6" r="16.3" class="co"/>
<text x="431.9" y="770.5" class="cn" style="font-size:22px;letter-spacing:0px">15</text>
<circle cx="431.9" cy="797.3" r="16.3" class="co"/>
<text x="431.9" y="805.2" class="cn" style="font-size:22px;letter-spacing:0px">16</text>
<circle cx="431.3" cy="832.8" r="16.3" class="co"/>
<text x="431.3" y="840.7" class="cn" style="font-size:22px;letter-spacing:0px">17</text>
<circle cx="430.9" cy="868.7" r="16.3" class="co"/>
<text x="430.9" y="876.6" class="cn" style="font-size:22px;letter-spacing:0px">18</text>
<path d="M380.7,736.6 L416.2,757.9" class="ld"/>
<path d="M384.1,789.4 L415,797.3" class="ld"/>
<path d="M375.1,814.2 L415.4,826.5" class="ld"/>
<path d="M417.8,877.5 L400.9,889.3" class="ld"/>
<path d="M434.5,885 L435,894.4" class="ld"/>
<path d="M415.2,896.9 L454,891.9 L477.7,1063.2 L439.7,1072.4Z" class="bxl"/>
<circle cx="437.2" cy="914.6" r="16" class="co"/>
<text x="437.2" y="920.9" class="cn" style="font-size:17.5px;letter-spacing:-0.8px;stroke-width:0.6px">180</text>
<circle cx="441.4" cy="947.6" r="16" class="co"/>
<text x="441.4" y="953.9" class="cn" style="font-size:17.5px;letter-spacing:-0.8px;stroke-width:0.6px">181</text>
<circle cx="446.5" cy="981.3" r="16" class="co"/>
<text x="446.5" y="987.6" class="cn" style="font-size:17.5px;letter-spacing:-0.8px;stroke-width:0.6px">182</text>
<circle cx="451.2" cy="1015.1" r="16" class="co"/>
<text x="451.2" y="1021.4" class="cn" style="font-size:17.5px;letter-spacing:-0.8px;stroke-width:0.6px">183</text>
<circle cx="455.7" cy="1048.8" r="16" class="co"/>
<text x="455.7" y="1055.1" class="cn" style="font-size:17.5px;letter-spacing:-0.8px;stroke-width:0.6px">184</text>
<path d="M393.9,1221.9 L397.4,1220.1 L438.5,1214.9 L442,1214 L462.1,1181.6 L465.6,1174.6 L470.9,1172.4 L477.9,1174.6 L479.6,1182.5 L477,1187.7 L457.7,1228 L456.9,1236.7 L461.2,1246.4 L470,1256 L478.7,1259.5 L487.5,1270 L498,1276.1 L499.7,1279.6 L497.1,1282.2 L487.5,1279.6 L477,1272.6 L465.6,1268.2 L452.5,1267.4 L435,1266.5 L410.5,1270 L404.4,1275.2 L393.9,1277 L382.5,1272.6 L376.4,1263.9 L372.9,1249 L382.5,1244.6 L394.7,1239.4 L396.5,1235 L394.7,1230.6Z" class="pt" style="stroke-width:1.9;fill:#dcdcdc;"/>
<path d="M398,1223 L440,1217 L452,1236 L455,1247 L412,1250 L400,1244Z" style="fill:#e4e4e4;stroke:none"/>
<path d="M406,1224 L412,1243 M418,1222 L421,1242 M430,1221 L434,1241 M441,1219 L446,1240" style="fill:none;stroke:#9a9a9a;stroke-width:2"/>
<path d="M404,1250 L455,1246" style="fill:none;stroke:#888;stroke-width:1.6"/>
<circle cx="393.9" cy="1260.4" r="13.5" style="fill:#c4c4c4;stroke:#333;stroke-width:1.6"/>
<circle cx="393.9" cy="1260.4" r="8.6" class="pt" style="stroke-width:1.8;stroke:#222"/>
<circle cx="470.9" cy="1180.8" r="6.5" style="fill:#ddd;stroke:#333;stroke-width:1.5"/>
<circle cx="470.9" cy="1180.8" r="2.6" class="pt" style="stroke-width:1.5;stroke:#222"/>
<circle cx="472.6" cy="1263" r="6.5" style="fill:#ddd;stroke:#333;stroke-width:1.5"/>
<circle cx="472.6" cy="1263" r="2.6" class="pt" style="stroke-width:1.5;stroke:#222"/>
<ellipse cx="424.5" cy="1259.5" rx="9" ry="4.2" transform="rotate(-12 424.5 1259.5)" style="fill:#2a2a2a"/>
<circle cx="427.1" cy="1221.4" r="2.5" style="fill:#222"/>
<path d="M374,1250 L377,1258" class="ln" style="stroke-width:2.6"/>
<path d="M383,1245.5 L389,1255" class="ln" style="stroke-width:2.6"/>
<circle cx="364.7" cy="1177" r="16.3" class="co"/>
<text x="364.7" y="1184.9" class="cn" style="font-size:22px;letter-spacing:0px">21</text>
<circle cx="364.7" cy="1213" r="16.3" class="co"/>
<text x="364.7" y="1220.9" class="cn" style="font-size:22px;letter-spacing:0px">22</text>
<path d="M379.3,1187.5 L427.3,1221.3" class="ld"/>
<path d="M379.3,1221.3 L395.8,1234.8" class="ld"/>
</g>
<g transform="translate(658 2)">
<path d="M101.8,723.5 L112,721 L130,719.3 L147.5,718.8 L147.5,719 L204,1128 L158.5,1134Z" class="pt" style="stroke-width:1.5;"/>
<path d="M101.7,722.5 L125,719.5 L147.5,718.3 L147.2,716.5 L149.4,732.5 L103.8,737.8Z" class="fl" style="fill:#2e2e2e;"/>
<path d="M102.1,725.2 L147.7,720.2" class="lw" style="stroke-width:0.8"/>
<path d="M102.5,728.2 L148.1,723.2" class="lw" style="stroke-width:0.8"/>
<path d="M102.9,731.2 L148.5,726.2" class="lw" style="stroke-width:0.8"/>
<path d="M103.3,734.2 L148.9,729.2" class="lw" style="stroke-width:0.8"/>
<path d="" />
<path d="M110.3,785.2 L156,780.2" class="ln" style="stroke-width:1.3"/>
<path d="M125.5,894.8 L171.1,889.8" class="ln" style="stroke-width:1.3"/>
<path d="M133.3,951.9 L179,946.9" class="ln" style="stroke-width:1.3"/>
<path d="M158.8,1133.8 L203.8,1128.1 L206.2,1143.8 L211.2,1162.5 L216,1187.5 L216.5,1188.8 L163.4,1195.6 L161.9,1188.8 L160,1167.5 L160.6,1148.8Z" class="pt" style="stroke-width:1.4;"/>
<path d="M161.6,1149.4 L205,1143.8" class="ln" style="stroke-width:1.2"/>
<path d="M162.5,1153.8 L206.9,1148.8" class="lg"/>
<path d="M163.1,1163 L208.8,1158" class="lg"/>
<path d="M163,1168.8 L211.2,1162.5" class="lg"/>
<path d="M161.2,1180 L213.8,1173" class="ln" style="stroke-width:2.2"/>
<path d="M163.8,1190.6 L216.2,1186.5" class="lg"/>
<path d="M163.4,1195.3 L216.5,1188.5" class="ln" style="stroke-width:3"/>
<path d="M220.5,754.7 L225,751.5 L240,749.8 L258,749.3 L260.3,750.5 L326.5,1234 L286.8,1238.5Z" class="pt" style="stroke-width:1.5;"/>
<path d="M221.2,759.5 L261,755.5" class="ln" style="stroke-width:3"/>
<path d="M223.4,775.8 L263.2,771.8" class="ln" style="stroke-width:3"/>
<path d="M225.3,789.8 L265.1,785.8" class="ln" style="stroke-width:1.3"/>
<circle cx="244.7" cy="780.5" r="3.3" style="fill:#777;stroke:#333;stroke-width:1"/>
<path d="M242.9,918.3 L282.7,914.3" class="ln" style="stroke-width:1.3"/>
<path d="M284.9,1224.5 L324.7,1220.5" class="ln" style="stroke-width:1.3"/>
<path d="M286.8,1238.5 L326.5,1234" class="ln" style="stroke-width:2"/>
<path d="M166.5,1204.5 L216,1199.5 L216.3,1202.5 L167,1207.8Z" class="fl" style="fill:#2a2a2a;"/>
<path d="M171.5,1218 L215.5,1213.5 L216,1222 L172,1227Z" class="pt" style="stroke-width:1.5;"/>
<path d="M172,1226.2 L216,1221.2" class="ln" style="stroke-width:2.2"/>
<path d="M171,1234.5 Q171,1231.5 175,1231.3 L217,1228.3 Q221,1228.5 221,1232 L221,1237.5 Q221,1240.5 217,1241 L176,1245.3 Q172,1245.3 171.5,1242Z" class="pt" style="stroke-width:1.6"/>
<path d="M172,1242.5 L220.5,1237.8" class="ln" style="stroke-width:2.5"/>
<path d="M173,1253.4 L189.7,1252" class="ln" style="stroke-width:2.8"/>
<path d="M202.8,1250.4 L223.2,1247.6" class="ln" style="stroke-width:3"/>
<path d="M189.7,1252 L202.8,1250.4" class="lg" style="stroke-width:1"/>
<path d="M173,1259.5 Q173,1256.5 178,1256.2 L222,1253 Q226.5,1253.2 226.5,1256.5 L226.5,1262.5 Q226,1266 222,1266.5 L180,1271 Q175,1271 174,1267Z" class="fl" style="fill:#2b2b2b"/>
<path d="M176,1262.5 L224,1258.5" class="lw" style="stroke-width:1.2"/>
<path d="M170.5,1282 Q173,1279 185,1277.5 L227,1273 Q231,1273 230,1276.5 Q224,1279.5 213,1280 L178,1283.8Z" style="fill:#6a6a6a;stroke:#333;stroke-width:0.9"/>
<path d="M215,721.9 L256.4,717.2 L258.8,733.6 L216.6,738.3Z" class="pt" style="stroke-width:1.5;"/>
<path d="M216.4,737.3 L258.6,732.6" class="ln" style="stroke-width:2"/>
<path d="M454.4,780.5 L466,779 L477.8,777.7 L523.8,1116.2 L499.8,1119.5Z" class="pt" style="stroke-width:1.5;"/>
<path d="M461.2,831.3 L484.7,828.5" class="ln" style="stroke-width:1.3"/>
<path d="M464,852 L487.5,849.2" class="ln" style="stroke-width:3"/>
<path d="M499.5,1119.4 L526.1,1116.2 L533.1,1159.2 L502.7,1163.1Z" class="pt" style="stroke-width:1.5;"/>
<path d="M501.1,1131.9 L528.4,1129.5" class="ln" style="stroke-width:1.3"/>
<path d="M503.4,1156 L532.3,1153" class="ln" style="stroke-width:1.3"/>
<circle cx="517" cy="1149" r="2.8" class="pt" style="stroke-width:1.3"/>
<rect x="537" y="734.4" width="11.6" height="8" rx="2" class="pt" style="stroke-width:1.5"/>
<path d="M533.5,744.7 L554.1,744 L554.6,759.9 L534,760.5Z" class="pt" style="stroke-width:1.5;"/>
<path d="M538.5,748.5 L549.5,748 L549.8,755 L538.8,755.5Z" class="pt" style="stroke-width:1.2;"/>
<path d="M536.2,760.5 L556.8,759.9 L557.5,772.2 L536.8,772.8Z" class="pt" style="stroke-width:1.4;"/>
<path d="M540,763 L553,762.5 L553.3,769 L540.3,769.5Z" class="pt" style="stroke-width:1;"/>
<path d="M532.1,772.8 L561,772 L561.3,776.4 L532.5,777.2Z" class="pt" style="stroke-width:1.4;"/>
<path d="M533.5,777.2 L561,776.4 L570.6,842.3 L569.9,845.5 L545.8,847.3 L544,843Z" class="pt" style="stroke-width:1.5;"/>
<path d="M537.5,778 L548.5,845" class="ln" style="stroke-width:1.0"/>
<path d="M540.5,778 L551.5,845" class="ln" style="stroke-width:1.0"/>
<path d="M547.5,778 L558.5,845" class="ln" style="stroke-width:1.0"/>
<path d="M550,778 L561,845" class="ln" style="stroke-width:1.0"/>
<path d="M554.5,778 L565,845" class="ln" style="stroke-width:1.0"/>
<path d="M557.5,778 L568,845" class="ln" style="stroke-width:1.0"/>
<path d="M533.8,778 L544.3,845" class="ln" style="stroke-width:2"/>
<path d="M548.6,847.3 L569.2,845.5 L572,878 L553.4,880.1Z" class="pt" style="stroke-width:1.4;"/>
<path d="M552.7,880.1 L573.8,878 L575.3,894.5 L555,896.5Z" class="pt" style="stroke-width:1.4;"/>
<path d="M552.8,881 L573.8,879" class="ln" style="stroke-width:2.2"/>
<path d="M555,895.8 L575.3,893.8" class="ln" style="stroke-width:2.2"/>
<path d="M558.9,896.5 L570.6,896.5 L605,1155.3 L594.8,1155.3Z" class="pt" style="stroke-width:1.4;"/>
<path d="M560.9,912.5 L572.8,912" class="ln" style="stroke-width:1.3"/>
<path d="M561.6,917 L573.4,916.5" class="ln" style="stroke-width:1.3"/>
<rect x="591.7" y="1155.3" width="18" height="28" rx="2" style="fill:#2e2e2e"/>
<path d="M592.5,1158 L609,1157" class="lw" style="stroke-width:1"/>
<path d="M592.5,1162 L609,1161" class="lw" style="stroke-width:1"/>
<path d="M592.5,1166 L609,1165" class="lw" style="stroke-width:1"/>
<path d="M592.5,1170 L609,1169" class="lw" style="stroke-width:1"/>
<path d="M592.5,1174 L609,1173" class="lw" style="stroke-width:1"/>
<path d="M592.5,1178 L609,1177" class="lw" style="stroke-width:1"/>
<rect x="594.3" y="1183" width="20" height="11" rx="3" class="pt" style="stroke-width:2"/>
<path d="M595,1188 L613.5,1187.5" class="ln" style="stroke-width:1.5"/>
<rect x="601.9" y="1195" width="9.3" height="8" rx="2" class="pt" style="stroke-width:1.5"/>
<rect x="527" y="1202" width="12.5" height="6" rx="2" class="pt" style="stroke-width:1.5"/>
<ellipse cx="535" cy="1215.5" rx="13.6" ry="8.8" style="fill:#333;stroke:#222;stroke-width:1"/>
<path d="M523,1214 L547.5,1212.5" class="lw" style="stroke-width:1.2"/>
<path d="M523.5,1218 L547.5,1216.5" class="lw" style="stroke-width:0.8"/>
<path d="M523,1227.2 L550.7,1224.8 L553.4,1242 L523.8,1245Z" class="pt" style="stroke-width:1.5;"/>
<path d="M523.5,1238 L552.3,1235.5 L553.4,1242 L523.8,1245Z" class="fl" style="fill:#333;"/>
<rect x="347.2" y="725.3" width="18.8" height="5" rx="2" class="pt" style="stroke-width:1.6;stroke:#111"/>
<path d="M334.9,733 L379.5,728.1 L380.4,750 L380,753.3 L339.8,758.2 L338.4,752Z" class="pt" style="stroke-width:1.7;"/>
<path d="M334.9,732.6 L379.5,727.8 L379.8,735.5 L335.5,740.5Z" class="fl" style="fill:#1e1e1e;"/>
<ellipse cx="338.5" cy="735.6" rx="1.6" ry="0.9" transform="rotate(-6 338.5 735.6)" fill="#ddd"/>
<ellipse cx="346" cy="734.5" rx="3.2" ry="0.9" transform="rotate(-6 346 734.5)" fill="#ddd"/>
<ellipse cx="358" cy="733.2" rx="4.2" ry="0.9" transform="rotate(-6 358 733.2)" fill="#ddd"/>
<ellipse cx="372.5" cy="731.6" rx="3.0" ry="0.9" transform="rotate(-6 372.5 731.6)" fill="#ddd"/>
<path d="M337.5,741.3 L378.4,736.2" class="lg" style="stroke-width:1.2"/>
<path d="M338.6,752.5 L380.2,748.6 L380,753.3 L339.8,758.2Z" class="fl" style="fill:#1e1e1e;"/>
<path d="M339.5,755.2 L379.5,751.2" class="lw" style="stroke-width:0.9"/>
<path d="M353.2,756.3 L369.8,755.1 L370.5,766.8 L354,768.3Z" class="pt" style="stroke-width:1.5;"/>
<path d="M358.1,761.6 L366,761 L366.2,765.4 L358.3,765.9Z" class="pt" style="stroke-width:1.2;"/>
<path d="M354,767.6 L370.5,766.2" class="ln" style="stroke-width:2.2"/>
<path d="M357.5,826 L389.9,823 L405.1,944.5 L374.3,948.5Z" style="fill:#8c8c8c;stroke:none"/>
<path d="M357.5,829.8 L390.8,825.0 M358.4,836.7 L391.7,831.9 M359.3,843.6 L392.5,838.8 M360.3,850.5 L393.4,845.7 M361.2,857.4 L394.2,852.6 M362.1,864.3 L395.0,859.5 M363.1,871.2 L395.9,866.4 M364.0,878.1 L396.7,873.3 M364.9,885.0 L397.6,880.2 M365.9,891.8 L398.4,887.0 M366.8,898.7 L399.3,893.9 M367.7,905.6 L400.1,900.8 M368.7,912.5 L401.0,907.7 M369.6,919.4 L401.8,914.6 M370.5,926.3 L402.6,921.5 M371.5,933.2 L403.5,928.4 M372.4,940.1 L404.3,935.3 M373.3,947.0 L405.2,942.2" style="fill:none;stroke:#444;stroke-width:4.0;stroke-linecap:round"/>
<path d="M357.5,829.8 L390.8,825.0 M358.4,836.7 L391.7,831.9 M359.3,843.6 L392.5,838.8 M360.3,850.5 L393.4,845.7 M361.2,857.4 L394.2,852.6 M362.1,864.3 L395.0,859.5 M363.1,871.2 L395.9,866.4 M364.0,878.1 L396.7,873.3 M364.9,885.0 L397.6,880.2 M365.9,891.8 L398.4,887.0 M366.8,898.7 L399.3,893.9 M367.7,905.6 L400.1,900.8 M368.7,912.5 L401.0,907.7 M369.6,919.4 L401.8,914.6 M370.5,926.3 L402.6,921.5 M371.5,933.2 L403.5,928.4 M372.4,940.1 L404.3,935.3 M373.3,947.0 L405.2,942.2" style="fill:none;stroke:#f4f4f4;stroke-width:2.2;stroke-linecap:round"/>
<path d="M374.7,964 L412.5,960 Q414,961.5 412.5,963.2 L375,967 Q373.5,966 374.7,964Z" style="fill:#555;stroke:#222;stroke-width:1.2"/>
<path d="M377.3,983.8 L412.7,980.5 L414,1000 L415.5,1022 L417.8,1044.6 L388.2,1048 L387,1022 L385.7,1017.6 Q381,1008 380,998Z" class="pt" style="stroke-width:1.5"/>
<path d="M378,989.5 L413,986.5" class="ln" style="stroke-width:1.2"/>
<path d="M386.5,1020 L415.5,1017" class="ln" style="stroke-width:1"/>
<path d="M388.5,1046.5 L417.5,1043.3" class="ln" style="stroke-width:2"/>
<ellipse cx="398.4" cy="1003.2" rx="5.8" ry="9.3" class="pt" style="stroke-width:1.5"/>
<ellipse cx="398.9" cy="1003.5" rx="3.2" ry="6.5" class="pt" style="stroke-width:1"/>
<path d="M385.3,1118.5 L424.5,1116 Q426,1118 425.8,1122 L425.8,1129 L386.3,1134 Q384.8,1130 385.3,1126Z" style="fill:#333;stroke:#222;stroke-width:1"/>
<path d="M386.5,1123.9 L424.5,1120.3" class="lg" style="stroke-width:0.8"/>
<path d="M386.5,1127.4 L424.5,1123.8" class="lg" style="stroke-width:0.8"/>
<path d="M386.5,1130.9 L424.5,1127.3" class="lg" style="stroke-width:0.8"/>
<circle cx="311.9" cy="746.9" r="16.3" class="co"/>
<text x="311.9" y="754.8" class="cn" style="font-size:22px;letter-spacing:0px">23</text>
<circle cx="311.9" cy="782" r="16.3" class="co"/>
<text x="311.9" y="789.9" class="cn" style="font-size:22px;letter-spacing:0px">24</text>
<circle cx="340.1" cy="1004.9" r="16.3" class="co"/>
<text x="340.1" y="1012.8" class="cn" style="font-size:22px;letter-spacing:0px">19</text>
<circle cx="340.1" cy="1039.5" r="16.3" class="co"/>
<text x="340.1" y="1047.4" class="cn" style="font-size:22px;letter-spacing:0px">32</text>
<circle cx="339.5" cy="1075" r="16.3" class="co"/>
<text x="339.5" y="1082.9" class="cn" style="font-size:22px;letter-spacing:0px">14</text>
<path d="M296,741.4 L258,724.2" class="ld"/>
<path d="M297.8,792.2 L268.9,815.6" class="ld"/>
<g transform="translate(0 1.5)">
<circle cx="97.5" cy="1147.8" r="16.3" class="co"/>
<text x="97.5" y="1155.7" class="cn" style="font-size:22px;letter-spacing:0px">25</text>
<circle cx="97.5" cy="1182.7" r="16.3" class="co"/>
<text x="97.5" y="1190.6" class="cn" style="font-size:22px;letter-spacing:0px">27</text>
<circle cx="97.5" cy="1217.5" r="16.3" class="co"/>
<text x="97.5" y="1225.4" class="cn" style="font-size:22px;letter-spacing:0px">28</text>
<circle cx="96.8" cy="1252.3" r="16.3" class="co"/>
<text x="96.8" y="1260.2" class="cn" style="font-size:22px;letter-spacing:0px">30</text>
<circle cx="258.8" cy="1185.3" r="16.3" class="co"/>
<text x="258.8" y="1193.2" class="cn" style="font-size:22px;letter-spacing:0px">26</text>
<circle cx="258.8" cy="1219.8" r="16.3" class="co"/>
<text x="258.8" y="1227.7" class="cn" style="font-size:22px;letter-spacing:0px">29</text>
<circle cx="258.8" cy="1254.7" r="16.3" class="co"/>
<text x="258.8" y="1262.6" class="cn" style="font-size:22px;letter-spacing:0px">31</text>
<path d="M113.3,1138.8 L157,1116.7" class="ld"/>
<path d="M114,1187.2 L167.3,1206.3" class="ld"/>
<path d="M114,1222 L171.8,1236.3" class="ld"/>
<path d="M114,1254.3 L174,1264" class="ld"/>
<path d="M243,1193.5 L216,1210" class="ld"/>
<path d="M243.8,1230.3 L220.5,1246.8" class="ld"/>
<path d="M243.8,1264 L229.5,1274.5" class="ld"/>
</g>
<path d="M375.6,968.6 L353.6,993.1" class="ld"/>
<path d="M357,1034.5 L383.2,1017.6" class="ld"/>
<path d="M353.8,1085.5 L392.8,1118.5" class="ld"/>
<circle cx="530.7" cy="902.8" r="16.3" class="co"/>
<text x="530.7" y="910.7" class="cn" style="font-size:22px;letter-spacing:0px">35</text>
<path d="M515.6,912.4 L497.7,926.2" class="ld"/>
<circle cx="572.2" cy="1286.1" r="16.3" class="co"/>
<text x="572.2" y="1294" class="cn" style="font-size:22px;letter-spacing:0px">37</text>
<circle cx="607.3" cy="1286.1" r="16.3" class="co"/>
<text x="607.3" y="1294" class="cn" style="font-size:22px;letter-spacing:0px">36</text>
<path d="M564.4,1270.2 L550.3,1242" class="ld"/>
<path d="M619.8,1271.7 L637,1254.5 L637.8,1213.9 L614.4,1190.5" class="ld"/>
</g>
<path d="M1008.2,816.1 L1045.3,810.2 L1045.8,812.8 L1008.2,818.9Z" class="fl" style="fill:#333;"/>
<circle cx="1090" cy="766" r="16.3" class="co"/>
<text x="1090" y="773.9" class="cn" style="font-size:22px;letter-spacing:0px">33</text>
<circle cx="1090" cy="801.8" r="16.3" class="co"/>
<text x="1090" y="809.7" class="cn" style="font-size:22px;letter-spacing:0px">17</text>
<circle cx="1090" cy="837.5" r="16.3" class="co"/>
<text x="1090" y="845.4" class="cn" style="font-size:22px;letter-spacing:0px">18</text>
<path d="M1039.1,739.9 L1074.9,761.2" class="ld"/>
<path d="M1042.6,812 L1074.9,802.4" class="ld"/>
<path d="M1077.6,850.6 L1055.6,869.8" class="ld"/>
<path d="M1093.4,853.8 L1094.1,863.6" class="ld"/>
<path d="M1075.6,867 L1112.7,860.9 L1138.1,1034.8 L1099.6,1041.7Z" class="bxl"/>
<circle cx="1097.6" cy="882.9" r="16" class="co"/>
<text x="1097.6" y="889.2" class="cn" style="font-size:17.5px;letter-spacing:-0.8px;stroke-width:0.6px">180</text>
<circle cx="1101.6" cy="916.2" r="16" class="co"/>
<text x="1101.6" y="922.5" class="cn" style="font-size:17.5px;letter-spacing:-0.8px;stroke-width:0.6px">181</text>
<circle cx="1107.2" cy="949.6" r="16" class="co"/>
<text x="1107.2" y="955.9" class="cn" style="font-size:17.5px;letter-spacing:-0.8px;stroke-width:0.6px">182</text>
<circle cx="1111.3" cy="983.9" r="16" class="co"/>
<text x="1111.3" y="990.2" class="cn" style="font-size:17.5px;letter-spacing:-0.8px;stroke-width:0.6px">183</text>
<circle cx="1116.1" cy="1017.6" r="16" class="co"/>
<text x="1116.1" y="1023.9" class="cn" style="font-size:17.5px;letter-spacing:-0.8px;stroke-width:0.6px">184</text>
<path d="M1042.5,1153.5 Q1043,1151.5 1047,1151.3 L1089,1146.5 Q1093.5,1146 1093.8,1149.5 L1092.5,1176 L1090.5,1185 L1091.5,1196 Q1090,1198.5 1085,1198.5 L1060,1201.3 L1055,1205 Q1050,1212 1043,1210.5 Q1030,1211 1026.5,1198 L1024,1187 L1021.3,1180 Q1021.5,1176.5 1026,1175.5 L1044,1169Z" class="pt" style="stroke-width:1.8;stroke:#222"/>
<circle cx="1043.8" cy="1193.1" r="16.2" style="fill:#9a9a9a;stroke:#2a2a2a;stroke-width:1.8"/>
<circle cx="1043.8" cy="1193.1" r="10" style="fill:#fff;stroke:#222;stroke-width:1.8"/>
<circle cx="1058.1" cy="1176.9" r="4.3" style="fill:#1a1a1a"/>
<circle cx="1070.6" cy="1165.3" r="2" style="fill:#333"/>
<path d="M1023,1178 L1026,1188" class="ln" style="stroke-width:3"/>
<path d="M1032.5,1173.5 L1037,1181" class="ln" style="stroke-width:3"/>
<path d="M1058,1152 L1059,1166" class="lg" style="stroke-width:1.4"/>
<path d="M1063,1178.8 L1092.5,1176.3" class="lg" style="stroke-width:1.5"/>
<path d="M1062,1184 L1066,1196" class="lg" style="stroke-width:1.3"/>
<path d="M1043.8,1165 L1043.8,1170" class="ln" style="stroke-width:1.5"/>
<circle cx="1135.3" cy="1124.7" r="16.3" class="co"/>
<text x="1135.3" y="1132.6" class="cn" style="font-size:22px;letter-spacing:0px">21</text>
<circle cx="1135.3" cy="1160.3" r="16.3" class="co"/>
<text x="1135.3" y="1168.2" class="cn" style="font-size:22px;letter-spacing:0px">20</text>
<path d="M1118.8,1132.2 L1070,1165" class="ld"/>
<path d="M1118.8,1166 L1088.8,1185.6" class="ld"/>
<g class="wm">
<path stroke="#2a2a2a" d="M404.6 601.1h0M423.0 601.1h0M450.5 601.1h0M468.9 601.1h0M487.3 601.1h0M496.5 601.1h0M524.1 601.1h0M680.4 601.1h0M708.0 601.1h0M717.2 601.1h0M744.8 601.1h0M855.1 601.1h0M864.3 601.1h0M873.5 601.1h0M1039.0 601.1h0M1066.6 601.1h0M1085.0 601.1h0M413.8 610.3h0M487.3 610.3h0M505.7 610.3h0M514.9 610.3h0M524.1 610.3h0M606.9 610.3h0M643.6 610.3h0M744.8 610.3h0M754.0 610.3h0M873.5 610.3h0M956.3 610.3h0M1029.8 610.3h0M1048.2 610.3h0M1057.4 610.3h0M1066.6 610.3h0M1075.8 610.3h0M1094.2 610.3h0M1103.4 610.3h0M1112.6 610.3h0M1121.8 610.3h0M1140.2 610.3h0M1167.8 610.3h0M395.4 619.5h0M441.3 619.5h0M450.5 619.5h0M487.3 619.5h0M496.5 619.5h0M524.1 619.5h0M588.5 619.5h0M652.8 619.5h0M836.7 619.5h0M845.9 619.5h0M956.3 619.5h0M965.5 619.5h0M1048.2 619.5h0M1103.4 619.5h0M367.8 628.7h0M377.0 628.7h0M386.2 628.7h0M413.8 628.7h0M468.9 628.7h0M478.1 628.7h0M588.5 628.7h0M652.8 628.7h0M754.0 628.7h0M809.1 628.7h0M818.3 628.7h0M836.7 628.7h0M910.3 628.7h0M1149.4 628.7h0M1158.6 628.7h0M367.8 637.9h0M386.2 637.9h0M423.0 637.9h0M450.5 637.9h0M478.1 637.9h0M533.3 637.9h0M606.9 637.9h0M634.4 637.9h0M662.0 637.9h0M698.8 637.9h0M735.6 637.9h0M754.0 637.9h0M818.3 637.9h0M864.3 637.9h0M901.1 637.9h0M910.3 637.9h0M937.9 637.9h0M993.0 637.9h0M1011.4 637.9h0M1075.8 637.9h0M1103.4 637.9h0M1112.6 637.9h0M1121.8 637.9h0M1131.0 637.9h0M367.8 647.1h0M386.2 647.1h0M404.6 647.1h0M487.3 647.1h0M514.9 647.1h0M680.4 647.1h0M689.6 647.1h0M698.8 647.1h0M726.4 647.1h0M735.6 647.1h0M836.7 647.1h0M1048.2 647.1h0M1085.0 647.1h0M1103.4 647.1h0M1121.8 647.1h0M1140.2 647.1h0M1149.4 647.1h0M514.9 656.3h0M570.1 656.3h0M625.2 656.3h0M827.5 656.3h0M836.7 656.3h0M855.1 656.3h0M1094.2 656.3h0M386.2 665.5h0M478.1 665.5h0M505.7 665.5h0M708.0 665.5h0M717.2 665.5h0M763.2 665.5h0M800.0 665.5h0M1057.4 665.5h0M1075.8 665.5h0M349.4 674.7h0M551.7 674.7h0M570.1 674.7h0M588.5 674.7h0M708.0 674.7h0M809.1 674.7h0M818.3 674.7h0M1029.8 674.7h0M1066.6 674.7h0M340.2 683.9h0M551.7 683.9h0M560.9 683.9h0M708.0 683.9h0M827.5 683.9h0M1057.4 683.9h0M1075.8 683.9h0M432.1 693.1h0M441.3 693.1h0M450.5 693.1h0M570.1 693.1h0M579.3 693.1h0M588.5 693.1h0M606.9 693.1h0M818.3 693.1h0M845.9 693.1h0M882.7 693.1h0M1048.2 693.1h0M1057.4 693.1h0M358.6 702.3h0M423.0 702.3h0M432.1 702.3h0M542.5 702.3h0M597.7 702.3h0M717.2 702.3h0M726.4 702.3h0M809.1 702.3h0M919.5 702.3h0M1075.8 702.3h0M367.8 711.5h0M404.6 711.5h0M496.5 711.5h0M570.1 711.5h0M588.5 711.5h0M689.6 711.5h0M698.8 711.5h0M708.0 711.5h0M809.1 711.5h0M836.7 711.5h0M882.7 711.5h0M891.9 711.5h0M928.7 711.5h0M1029.8 711.5h0M349.4 720.7h0M386.2 720.7h0M413.8 720.7h0M450.5 720.7h0M459.7 720.7h0M468.9 720.7h0M698.8 720.7h0M744.8 720.7h0M864.3 720.7h0M1039.0 720.7h0M1048.2 720.7h0M386.2 729.9h0M395.4 729.9h0M459.7 729.9h0M468.9 729.9h0M588.5 729.9h0M726.4 729.9h0M800.0 729.9h0M901.1 729.9h0M1039.0 729.9h0M1057.4 729.9h0M1066.6 729.9h0M478.1 739.1h0M505.7 739.1h0M542.5 739.1h0M551.7 739.1h0M588.5 739.1h0M680.4 739.1h0M708.0 739.1h0M726.4 739.1h0M800.0 739.1h0M809.1 739.1h0M845.9 739.1h0M855.1 739.1h0M386.2 748.3h0M450.5 748.3h0M560.9 748.3h0M570.1 748.3h0M680.4 748.3h0M717.2 748.3h0M800.0 748.3h0M1057.4 748.3h0M468.9 757.5h0M478.1 757.5h0M533.3 757.5h0M570.1 757.5h0M671.2 757.5h0M689.6 757.5h0M331.0 766.7h0M349.4 766.7h0M377.0 766.7h0M468.9 766.7h0M487.3 766.7h0M542.5 766.7h0M579.3 766.7h0M689.6 766.7h0M790.8 766.7h0M993.0 766.7h0M312.6 775.9h0M340.2 775.9h0M377.0 775.9h0M386.2 775.9h0M395.4 775.9h0M432.1 775.9h0M450.5 775.9h0M551.7 775.9h0M652.8 775.9h0M671.2 775.9h0M772.4 775.9h0M781.6 775.9h0M790.8 775.9h0M1011.4 775.9h0M1039.0 775.9h0M1048.2 775.9h0M321.8 785.1h0M367.8 785.1h0M395.4 785.1h0M423.0 785.1h0M432.1 785.1h0M487.3 785.1h0M606.9 785.1h0M643.6 785.1h0M662.0 785.1h0M689.6 785.1h0M698.8 785.1h0M781.6 785.1h0M983.8 785.1h0M1020.6 785.1h0M349.4 794.3h0M367.8 794.3h0M542.5 794.3h0M560.9 794.3h0M993.0 794.3h0M1011.4 794.3h0M1029.8 794.3h0M1039.0 794.3h0M303.4 803.5h0M331.0 803.5h0M340.2 803.5h0M349.4 803.5h0M395.4 803.5h0M450.5 803.5h0M542.5 803.5h0M551.7 803.5h0M560.9 803.5h0M570.1 803.5h0M634.4 803.5h0M643.6 803.5h0M662.0 803.5h0M689.6 803.5h0M1002.2 803.5h0M331.0 812.7h0M349.4 812.7h0M367.8 812.7h0M377.0 812.7h0M386.2 812.7h0M413.8 812.7h0M450.5 812.7h0M606.9 812.7h0M634.4 812.7h0M652.8 812.7h0M772.4 812.7h0M790.8 812.7h0M800.0 812.7h0M1011.4 812.7h0M1103.4 812.7h0M1140.2 812.7h0M1250.5 812.7h0M1287.3 812.7h0M331.0 821.9h0M588.5 821.9h0M606.9 821.9h0M634.4 821.9h0M717.2 821.9h0M772.4 821.9h0M790.8 821.9h0M845.9 821.9h0M864.3 821.9h0M974.7 821.9h0M597.7 831.1h0M772.4 831.1h0M882.7 831.1h0M947.1 831.1h0M983.8 831.1h0M1140.2 831.1h0M1241.3 831.1h0M1268.9 831.1h0M606.9 840.3h0M763.2 840.3h0M845.9 840.3h0M855.1 840.3h0M1112.6 840.3h0M1250.5 840.3h0M1259.7 840.3h0M735.6 849.5h0M772.4 849.5h0M855.1 849.5h0M864.3 849.5h0M947.1 849.5h0M956.3 849.5h0M993.0 849.5h0M1020.6 849.5h0M1158.6 849.5h0M625.2 858.7h0M643.6 858.7h0M708.0 858.7h0M754.0 858.7h0M882.7 858.7h0M947.1 858.7h0M1131.0 858.7h0M1250.5 858.7h0M864.3 867.9h0M947.1 867.9h0M965.5 867.9h0M974.7 867.9h0M1204.5 867.9h0M1241.3 867.9h0M1250.5 867.9h0M1259.7 867.9h0M781.6 877.1h0M836.7 877.1h0M845.9 877.1h0M937.9 877.1h0M1131.0 877.1h0M1149.4 877.1h0M1158.6 877.1h0M1167.8 877.1h0M1204.5 877.1h0M1222.9 877.1h0M1241.3 877.1h0M606.9 886.3h0M616.0 886.3h0M652.8 886.3h0M708.0 886.3h0M754.0 886.3h0M864.3 886.3h0M873.5 886.3h0M947.1 886.3h0M974.7 886.3h0M1131.0 886.3h0M1176.9 886.3h0M662.0 895.5h0M937.9 895.5h0M1057.4 895.5h0M1204.5 895.5h0M1232.1 895.5h0M662.0 904.7h0M735.6 904.7h0M873.5 904.7h0M928.7 904.7h0M937.9 904.7h0M1057.4 904.7h0M1066.6 904.7h0M1140.2 904.7h0M1167.8 904.7h0M1204.5 904.7h0M1213.7 904.7h0M754.0 913.9h0M763.2 913.9h0M772.4 913.9h0M781.6 913.9h0M790.8 913.9h0M873.5 913.9h0M965.5 913.9h0M1167.8 913.9h0M1204.5 913.9h0M652.8 923.1h0M717.2 923.1h0M726.4 923.1h0M800.0 923.1h0M864.3 923.1h0M919.5 923.1h0M937.9 923.1h0M956.3 923.1h0M974.7 923.1h0M1020.6 923.1h0M1158.6 923.1h0M1176.9 923.1h0M662.0 932.3h0M698.8 932.3h0M726.4 932.3h0M790.8 932.3h0M864.3 932.3h0M937.9 932.3h0M956.3 932.3h0M1057.4 932.3h0M1158.6 932.3h0M1204.5 932.3h0M634.4 941.5h0M689.6 941.5h0M717.2 941.5h0M726.4 941.5h0M781.6 941.5h0M827.5 941.5h0M845.9 941.5h0M855.1 941.5h0M919.5 941.5h0M928.7 941.5h0M937.9 941.5h0M974.7 941.5h0M1176.9 941.5h0M1186.1 941.5h0M625.2 950.7h0M689.6 950.7h0M763.2 950.7h0M790.8 950.7h0M827.5 950.7h0M864.3 950.7h0M983.8 950.7h0M1085.0 950.7h0M1186.1 950.7h0M1195.3 950.7h0M625.2 959.9h0M634.4 959.9h0M652.8 959.9h0M662.0 959.9h0M708.0 959.9h0M763.2 959.9h0M772.4 959.9h0M809.1 959.9h0M827.5 959.9h0M855.1 959.9h0M919.5 959.9h0M1213.7 959.9h0M698.8 969.1h0M772.4 969.1h0M781.6 969.1h0M855.1 969.1h0M1075.8 969.1h0M1213.7 969.1h0M625.2 978.3h0M634.4 978.3h0M680.4 978.3h0M781.6 978.3h0M928.7 978.3h0M1066.6 978.3h0M1075.8 978.3h0M1176.9 978.3h0M1213.7 978.3h0M662.0 987.5h0M845.9 987.5h0M864.3 987.5h0M680.4 996.7h0M698.8 996.7h0M772.4 996.7h0M827.5 996.7h0M855.1 996.7h0M901.1 996.7h0M689.6 1005.9h0M901.1 1005.9h0M947.1 1005.9h0M643.6 1015.1h0M680.4 1015.1h0M689.6 1015.1h0M809.1 1015.1h0M855.1 1015.1h0M928.7 1015.1h0"/>
<path stroke="#666" d="M395.4 601.1h0M432.1 601.1h0M441.3 601.1h0M459.7 601.1h0M478.1 601.1h0M505.7 601.1h0M625.2 601.1h0M662.0 601.1h0M698.8 601.1h0M726.4 601.1h0M836.7 601.1h0M845.9 601.1h0M891.9 601.1h0M901.1 601.1h0M919.5 601.1h0M928.7 601.1h0M956.3 601.1h0M974.7 601.1h0M1020.6 601.1h0M1048.2 601.1h0M1075.8 601.1h0M1131.0 601.1h0M1167.8 601.1h0M395.4 610.3h0M459.7 610.3h0M468.9 610.3h0M496.5 610.3h0M616.0 610.3h0M625.2 610.3h0M652.8 610.3h0M662.0 610.3h0M698.8 610.3h0M708.0 610.3h0M717.2 610.3h0M827.5 610.3h0M836.7 610.3h0M845.9 610.3h0M864.3 610.3h0M882.7 610.3h0M891.9 610.3h0M928.7 610.3h0M1011.4 610.3h0M1020.6 610.3h0M1085.0 610.3h0M1131.0 610.3h0M367.8 619.5h0M377.0 619.5h0M386.2 619.5h0M423.0 619.5h0M432.1 619.5h0M459.7 619.5h0M468.9 619.5h0M514.9 619.5h0M533.3 619.5h0M597.7 619.5h0M634.4 619.5h0M643.6 619.5h0M671.2 619.5h0M689.6 619.5h0M698.8 619.5h0M763.2 619.5h0M818.3 619.5h0M827.5 619.5h0M855.1 619.5h0M864.3 619.5h0M891.9 619.5h0M928.7 619.5h0M937.9 619.5h0M947.1 619.5h0M1020.6 619.5h0M1094.2 619.5h0M1121.8 619.5h0M1149.4 619.5h0M1158.6 619.5h0M450.5 628.7h0M459.7 628.7h0M505.7 628.7h0M524.1 628.7h0M597.7 628.7h0M606.9 628.7h0M616.0 628.7h0M634.4 628.7h0M643.6 628.7h0M671.2 628.7h0M680.4 628.7h0M708.0 628.7h0M726.4 628.7h0M735.6 628.7h0M744.8 628.7h0M763.2 628.7h0M845.9 628.7h0M873.5 628.7h0M882.7 628.7h0M928.7 628.7h0M937.9 628.7h0M956.3 628.7h0M1002.2 628.7h0M1020.6 628.7h0M1029.8 628.7h0M1048.2 628.7h0M1057.4 628.7h0M1066.6 628.7h0M1112.6 628.7h0M358.6 637.9h0M377.0 637.9h0M496.5 637.9h0M505.7 637.9h0M579.3 637.9h0M588.5 637.9h0M597.7 637.9h0M616.0 637.9h0M652.8 637.9h0M671.2 637.9h0M689.6 637.9h0M744.8 637.9h0M809.1 637.9h0M827.5 637.9h0M855.1 637.9h0M928.7 637.9h0M1029.8 637.9h0M1039.0 637.9h0M1066.6 637.9h0M1085.0 637.9h0M1094.2 637.9h0M1140.2 637.9h0M1149.4 637.9h0M349.4 647.1h0M358.6 647.1h0M377.0 647.1h0M395.4 647.1h0M496.5 647.1h0M533.3 647.1h0M570.1 647.1h0M588.5 647.1h0M597.7 647.1h0M625.2 647.1h0M662.0 647.1h0M671.2 647.1h0M717.2 647.1h0M800.0 647.1h0M809.1 647.1h0M818.3 647.1h0M827.5 647.1h0M845.9 647.1h0M855.1 647.1h0M1002.2 647.1h0M1011.4 647.1h0M1029.8 647.1h0M1039.0 647.1h0M1057.4 647.1h0M1066.6 647.1h0M1075.8 647.1h0M1094.2 647.1h0M1112.6 647.1h0M1131.0 647.1h0M1158.6 647.1h0M349.4 656.3h0M367.8 656.3h0M487.3 656.3h0M496.5 656.3h0M708.0 656.3h0M717.2 656.3h0M818.3 656.3h0M845.9 656.3h0M1085.0 656.3h0M358.6 665.5h0M367.8 665.5h0M468.9 665.5h0M487.3 665.5h0M560.9 665.5h0M570.1 665.5h0M579.3 665.5h0M726.4 665.5h0M744.8 665.5h0M809.1 665.5h0M845.9 665.5h0M1029.8 665.5h0M1039.0 665.5h0M1048.2 665.5h0M358.6 674.7h0M386.2 674.7h0M395.4 674.7h0M597.7 674.7h0M726.4 674.7h0M754.0 674.7h0M800.0 674.7h0M827.5 674.7h0M836.7 674.7h0M845.9 674.7h0M1039.0 674.7h0M1048.2 674.7h0M377.0 683.9h0M386.2 683.9h0M395.4 683.9h0M423.0 683.9h0M432.1 683.9h0M441.3 683.9h0M579.3 683.9h0M597.7 683.9h0M606.9 683.9h0M698.8 683.9h0M717.2 683.9h0M809.1 683.9h0M845.9 683.9h0M1048.2 683.9h0M340.2 693.1h0M349.4 693.1h0M358.6 693.1h0M386.2 693.1h0M404.6 693.1h0M423.0 693.1h0M468.9 693.1h0M478.1 693.1h0M560.9 693.1h0M597.7 693.1h0M698.8 693.1h0M708.0 693.1h0M744.8 693.1h0M754.0 693.1h0M790.8 693.1h0M800.0 693.1h0M809.1 693.1h0M827.5 693.1h0M855.1 693.1h0M891.9 693.1h0M901.1 693.1h0M910.3 693.1h0M919.5 693.1h0M340.2 702.3h0M367.8 702.3h0M413.8 702.3h0M441.3 702.3h0M496.5 702.3h0M560.9 702.3h0M588.5 702.3h0M689.6 702.3h0M735.6 702.3h0M781.6 702.3h0M790.8 702.3h0M818.3 702.3h0M827.5 702.3h0M864.3 702.3h0M873.5 702.3h0M882.7 702.3h0M910.3 702.3h0M928.7 702.3h0M1029.8 702.3h0M1039.0 702.3h0M1066.6 702.3h0M340.2 711.5h0M349.4 711.5h0M395.4 711.5h0M423.0 711.5h0M441.3 711.5h0M450.5 711.5h0M468.9 711.5h0M487.3 711.5h0M505.7 711.5h0M542.5 711.5h0M579.3 711.5h0M717.2 711.5h0M800.0 711.5h0M855.1 711.5h0M864.3 711.5h0M873.5 711.5h0M901.1 711.5h0M910.3 711.5h0M1039.0 711.5h0M1066.6 711.5h0M358.6 720.7h0M367.8 720.7h0M395.4 720.7h0M423.0 720.7h0M487.3 720.7h0M542.5 720.7h0M551.7 720.7h0M579.3 720.7h0M597.7 720.7h0M689.6 720.7h0M781.6 720.7h0M790.8 720.7h0M818.3 720.7h0M827.5 720.7h0M836.7 720.7h0M845.9 720.7h0M919.5 720.7h0M1011.4 720.7h0M1020.6 720.7h0M1066.6 720.7h0M413.8 729.9h0M450.5 729.9h0M478.1 729.9h0M496.5 729.9h0M505.7 729.9h0M533.3 729.9h0M689.6 729.9h0M708.0 729.9h0M735.6 729.9h0M790.8 729.9h0M827.5 729.9h0M836.7 729.9h0M855.1 729.9h0M864.3 729.9h0M910.3 729.9h0M1048.2 729.9h0M386.2 739.1h0M450.5 739.1h0M533.3 739.1h0M560.9 739.1h0M689.6 739.1h0M717.2 739.1h0M790.8 739.1h0M818.3 739.1h0M1039.0 739.1h0M1057.4 739.1h0M331.0 748.3h0M468.9 748.3h0M487.3 748.3h0M551.7 748.3h0M698.8 748.3h0M708.0 748.3h0M726.4 748.3h0M735.6 748.3h0M809.1 748.3h0M1048.2 748.3h0M321.8 757.5h0M377.0 757.5h0M386.2 757.5h0M487.3 757.5h0M496.5 757.5h0M524.1 757.5h0M542.5 757.5h0M726.4 757.5h0M790.8 757.5h0M809.1 757.5h0M993.0 757.5h0M1029.8 757.5h0M1039.0 757.5h0M321.8 766.7h0M340.2 766.7h0M386.2 766.7h0M459.7 766.7h0M533.3 766.7h0M551.7 766.7h0M560.9 766.7h0M708.0 766.7h0M1002.2 766.7h0M1039.0 766.7h0M321.8 775.9h0M349.4 775.9h0M358.6 775.9h0M367.8 775.9h0M459.7 775.9h0M478.1 775.9h0M579.3 775.9h0M597.7 775.9h0M625.2 775.9h0M643.6 775.9h0M689.6 775.9h0M763.2 775.9h0M809.1 775.9h0M993.0 775.9h0M1020.6 775.9h0M312.6 785.1h0M331.0 785.1h0M340.2 785.1h0M386.2 785.1h0M413.8 785.1h0M468.9 785.1h0M478.1 785.1h0M542.5 785.1h0M560.9 785.1h0M588.5 785.1h0M616.0 785.1h0M625.2 785.1h0M634.4 785.1h0M754.0 785.1h0M790.8 785.1h0M800.0 785.1h0M312.6 794.3h0M331.0 794.3h0M340.2 794.3h0M358.6 794.3h0M377.0 794.3h0M423.0 794.3h0M441.3 794.3h0M459.7 794.3h0M468.9 794.3h0M570.1 794.3h0M579.3 794.3h0M616.0 794.3h0M634.4 794.3h0M643.6 794.3h0M744.8 794.3h0M781.6 794.3h0M983.8 794.3h0M321.8 803.5h0M413.8 803.5h0M625.2 803.5h0M671.2 803.5h0M680.4 803.5h0M744.8 803.5h0M754.0 803.5h0M772.4 803.5h0M781.6 803.5h0M800.0 803.5h0M1011.4 803.5h0M1020.6 803.5h0M1039.0 803.5h0M321.8 812.7h0M423.0 812.7h0M432.1 812.7h0M551.7 812.7h0M560.9 812.7h0M579.3 812.7h0M597.7 812.7h0M625.2 812.7h0M735.6 812.7h0M744.8 812.7h0M754.0 812.7h0M845.9 812.7h0M864.3 812.7h0M873.5 812.7h0M891.9 812.7h0M901.1 812.7h0M956.3 812.7h0M993.0 812.7h0M1002.2 812.7h0M1112.6 812.7h0M1149.4 812.7h0M1241.3 812.7h0M1259.7 812.7h0M340.2 821.9h0M349.4 821.9h0M579.3 821.9h0M597.7 821.9h0M726.4 821.9h0M763.2 821.9h0M855.1 821.9h0M873.5 821.9h0M901.1 821.9h0M965.5 821.9h0M993.0 821.9h0M1020.6 821.9h0M1103.4 821.9h0M1112.6 821.9h0M1259.7 821.9h0M1268.9 821.9h0M606.9 831.1h0M643.6 831.1h0M717.2 831.1h0M726.4 831.1h0M744.8 831.1h0M855.1 831.1h0M864.3 831.1h0M891.9 831.1h0M974.7 831.1h0M1002.2 831.1h0M1020.6 831.1h0M1112.6 831.1h0M1121.8 831.1h0M1158.6 831.1h0M1259.7 831.1h0M1278.1 831.1h0M597.7 840.3h0M616.0 840.3h0M625.2 840.3h0M643.6 840.3h0M717.2 840.3h0M726.4 840.3h0M754.0 840.3h0M781.6 840.3h0M947.1 840.3h0M965.5 840.3h0M983.8 840.3h0M1020.6 840.3h0M1029.8 840.3h0M1039.0 840.3h0M1131.0 840.3h0M1149.4 840.3h0M1158.6 840.3h0M1232.1 840.3h0M1241.3 840.3h0M597.7 849.5h0M606.9 849.5h0M616.0 849.5h0M625.2 849.5h0M634.4 849.5h0M708.0 849.5h0M891.9 849.5h0M965.5 849.5h0M983.8 849.5h0M1232.1 849.5h0M1250.5 849.5h0M606.9 858.7h0M616.0 858.7h0M634.4 858.7h0M652.8 858.7h0M717.2 858.7h0M726.4 858.7h0M735.6 858.7h0M772.4 858.7h0M855.1 858.7h0M864.3 858.7h0M983.8 858.7h0M1002.2 858.7h0M1011.4 858.7h0M1158.6 858.7h0M1213.7 858.7h0M1222.9 858.7h0M1232.1 858.7h0M1259.7 858.7h0M606.9 867.9h0M634.4 867.9h0M652.8 867.9h0M708.0 867.9h0M717.2 867.9h0M726.4 867.9h0M763.2 867.9h0M772.4 867.9h0M781.6 867.9h0M937.9 867.9h0M956.3 867.9h0M1222.9 867.9h0M634.4 877.1h0M717.2 877.1h0M726.4 877.1h0M735.6 877.1h0M744.8 877.1h0M754.0 877.1h0M882.7 877.1h0M947.1 877.1h0M983.8 877.1h0M1011.4 877.1h0M634.4 886.3h0M781.6 886.3h0M836.7 886.3h0M956.3 886.3h0M1011.4 886.3h0M1140.2 886.3h0M1158.6 886.3h0M1213.7 886.3h0M1241.3 886.3h0M606.9 895.5h0M652.8 895.5h0M726.4 895.5h0M772.4 895.5h0M781.6 895.5h0M845.9 895.5h0M928.7 895.5h0M947.1 895.5h0M956.3 895.5h0M1149.4 895.5h0M1195.3 895.5h0M625.2 904.7h0M652.8 904.7h0M698.8 904.7h0M726.4 904.7h0M763.2 904.7h0M845.9 904.7h0M855.1 904.7h0M956.3 904.7h0M974.7 904.7h0M1011.4 904.7h0M1085.0 904.7h0M1186.1 904.7h0M1195.3 904.7h0M625.2 913.9h0M643.6 913.9h0M662.0 913.9h0M735.6 913.9h0M845.9 913.9h0M956.3 913.9h0M1020.6 913.9h0M1149.4 913.9h0M1158.6 913.9h0M1195.3 913.9h0M1213.7 913.9h0M616.0 923.1h0M772.4 923.1h0M845.9 923.1h0M855.1 923.1h0M873.5 923.1h0M928.7 923.1h0M1066.6 923.1h0M1167.8 923.1h0M1213.7 923.1h0M625.2 932.3h0M643.6 932.3h0M689.6 932.3h0M772.4 932.3h0M781.6 932.3h0M800.0 932.3h0M855.1 932.3h0M873.5 932.3h0M919.5 932.3h0M1066.6 932.3h0M1075.8 932.3h0M1085.0 932.3h0M1167.8 932.3h0M1213.7 932.3h0M652.8 941.5h0M708.0 941.5h0M772.4 941.5h0M790.8 941.5h0M956.3 941.5h0M965.5 941.5h0M1204.5 941.5h0M643.6 950.7h0M671.2 950.7h0M708.0 950.7h0M726.4 950.7h0M781.6 950.7h0M800.0 950.7h0M836.7 950.7h0M845.9 950.7h0M855.1 950.7h0M947.1 950.7h0M965.5 950.7h0M1011.4 950.7h0M1057.4 950.7h0M1066.6 950.7h0M1075.8 950.7h0M1176.9 950.7h0M1204.5 950.7h0M689.6 959.9h0M781.6 959.9h0M790.8 959.9h0M800.0 959.9h0M818.3 959.9h0M947.1 959.9h0M956.3 959.9h0M974.7 959.9h0M983.8 959.9h0M1057.4 959.9h0M1066.6 959.9h0M1075.8 959.9h0M1085.0 959.9h0M625.2 969.1h0M652.8 969.1h0M662.0 969.1h0M680.4 969.1h0M689.6 969.1h0M708.0 969.1h0M717.2 969.1h0M910.3 969.1h0M928.7 969.1h0M937.9 969.1h0M965.5 969.1h0M974.7 969.1h0M983.8 969.1h0M1002.2 969.1h0M1057.4 969.1h0M1176.9 969.1h0M1186.1 969.1h0M1195.3 969.1h0M1204.5 969.1h0M643.6 978.3h0M652.8 978.3h0M662.0 978.3h0M671.2 978.3h0M689.6 978.3h0M800.0 978.3h0M809.1 978.3h0M827.5 978.3h0M836.7 978.3h0M845.9 978.3h0M855.1 978.3h0M864.3 978.3h0M910.3 978.3h0M937.9 978.3h0M956.3 978.3h0M974.7 978.3h0M983.8 978.3h0M1002.2 978.3h0M1167.8 978.3h0M1186.1 978.3h0M1195.3 978.3h0M634.4 987.5h0M671.2 987.5h0M680.4 987.5h0M772.4 987.5h0M809.1 987.5h0M919.5 987.5h0M947.1 987.5h0M1075.8 987.5h0M1085.0 987.5h0M1167.8 987.5h0M1186.1 987.5h0M1195.3 987.5h0M1213.7 987.5h0M634.4 996.7h0M662.0 996.7h0M671.2 996.7h0M689.6 996.7h0M790.8 996.7h0M836.7 996.7h0M919.5 996.7h0M947.1 996.7h0M1186.1 996.7h0M1195.3 996.7h0M1213.7 996.7h0M634.4 1005.9h0M652.8 1005.9h0M680.4 1005.9h0M698.8 1005.9h0M708.0 1005.9h0M800.0 1005.9h0M809.1 1005.9h0M836.7 1005.9h0M845.9 1005.9h0M910.3 1005.9h0M937.9 1005.9h0M634.4 1015.1h0M652.8 1015.1h0M662.0 1015.1h0M671.2 1015.1h0M781.6 1015.1h0M818.3 1015.1h0M836.7 1015.1h0M891.9 1015.1h0M937.9 1015.1h0M1167.8 1015.1h0M1186.1 1015.1h0M1213.7 1015.1h0"/>
<path stroke="#999" d="M413.8 601.1h0M514.9 601.1h0M634.4 601.1h0M652.8 601.1h0M735.6 601.1h0M818.3 601.1h0M827.5 601.1h0M882.7 601.1h0M910.3 601.1h0M937.9 601.1h0M947.1 601.1h0M965.5 601.1h0M1011.4 601.1h0M1057.4 601.1h0M1094.2 601.1h0M1103.4 601.1h0M1112.6 601.1h0M1140.2 601.1h0M1149.4 601.1h0M1158.6 601.1h0M377.0 610.3h0M404.6 610.3h0M423.0 610.3h0M432.1 610.3h0M450.5 610.3h0M478.1 610.3h0M533.3 610.3h0M680.4 610.3h0M855.1 610.3h0M901.1 610.3h0M919.5 610.3h0M937.9 610.3h0M947.1 610.3h0M974.7 610.3h0M1002.2 610.3h0M1039.0 610.3h0M1158.6 610.3h0M404.6 619.5h0M478.1 619.5h0M625.2 619.5h0M662.0 619.5h0M680.4 619.5h0M708.0 619.5h0M735.6 619.5h0M744.8 619.5h0M754.0 619.5h0M873.5 619.5h0M993.0 619.5h0M1011.4 619.5h0M1029.8 619.5h0M1039.0 619.5h0M1057.4 619.5h0M1075.8 619.5h0M1085.0 619.5h0M1112.6 619.5h0M1131.0 619.5h0M358.6 628.7h0M404.6 628.7h0M423.0 628.7h0M441.3 628.7h0M496.5 628.7h0M579.3 628.7h0M625.2 628.7h0M689.6 628.7h0M827.5 628.7h0M855.1 628.7h0M864.3 628.7h0M891.9 628.7h0M901.1 628.7h0M919.5 628.7h0M947.1 628.7h0M965.5 628.7h0M983.8 628.7h0M1011.4 628.7h0M1039.0 628.7h0M1085.0 628.7h0M1121.8 628.7h0M1140.2 628.7h0M395.4 637.9h0M404.6 637.9h0M432.1 637.9h0M441.3 637.9h0M524.1 637.9h0M625.2 637.9h0M643.6 637.9h0M680.4 637.9h0M717.2 637.9h0M763.2 637.9h0M845.9 637.9h0M882.7 637.9h0M891.9 637.9h0M919.5 637.9h0M956.3 637.9h0M983.8 637.9h0M1048.2 637.9h0M1158.6 637.9h0M413.8 647.1h0M478.1 647.1h0M524.1 647.1h0M579.3 647.1h0M606.9 647.1h0M634.4 647.1h0M643.6 647.1h0M652.8 647.1h0M708.0 647.1h0M744.8 647.1h0M763.2 647.1h0M358.6 656.3h0M377.0 656.3h0M386.2 656.3h0M395.4 656.3h0M524.1 656.3h0M560.9 656.3h0M579.3 656.3h0M597.7 656.3h0M606.9 656.3h0M616.0 656.3h0M726.4 656.3h0M735.6 656.3h0M744.8 656.3h0M754.0 656.3h0M800.0 656.3h0M809.1 656.3h0M1039.0 656.3h0M1048.2 656.3h0M1057.4 656.3h0M1066.6 656.3h0M1075.8 656.3h0M340.2 665.5h0M349.4 665.5h0M377.0 665.5h0M395.4 665.5h0M496.5 665.5h0M514.9 665.5h0M588.5 665.5h0M597.7 665.5h0M606.9 665.5h0M616.0 665.5h0M735.6 665.5h0M754.0 665.5h0M818.3 665.5h0M827.5 665.5h0M836.7 665.5h0M367.8 674.7h0M579.3 674.7h0M717.2 674.7h0M744.8 674.7h0M1057.4 674.7h0M1075.8 674.7h0M1085.0 674.7h0M358.6 683.9h0M413.8 683.9h0M570.1 683.9h0M744.8 683.9h0M754.0 683.9h0M818.3 683.9h0M836.7 683.9h0M1029.8 683.9h0M1039.0 683.9h0M367.8 693.1h0M395.4 693.1h0M413.8 693.1h0M717.2 693.1h0M735.6 693.1h0M864.3 693.1h0M1029.8 693.1h0M1066.6 693.1h0M349.4 702.3h0M386.2 702.3h0M450.5 702.3h0M468.9 702.3h0M478.1 702.3h0M487.3 702.3h0M505.7 702.3h0M551.7 702.3h0M579.3 702.3h0M698.8 702.3h0M708.0 702.3h0M744.8 702.3h0M800.0 702.3h0M845.9 702.3h0M901.1 702.3h0M1020.6 702.3h0M1048.2 702.3h0M358.6 711.5h0M377.0 711.5h0M386.2 711.5h0M432.1 711.5h0M459.7 711.5h0M551.7 711.5h0M744.8 711.5h0M827.5 711.5h0M845.9 711.5h0M1048.2 711.5h0M1057.4 711.5h0M432.1 720.7h0M441.3 720.7h0M496.5 720.7h0M570.1 720.7h0M588.5 720.7h0M708.0 720.7h0M726.4 720.7h0M873.5 720.7h0M882.7 720.7h0M891.9 720.7h0M901.1 720.7h0M910.3 720.7h0M1029.8 720.7h0M1057.4 720.7h0M404.6 729.9h0M487.3 729.9h0M542.5 729.9h0M551.7 729.9h0M560.9 729.9h0M570.1 729.9h0M579.3 729.9h0M680.4 729.9h0M698.8 729.9h0M717.2 729.9h0M818.3 729.9h0M873.5 729.9h0M882.7 729.9h0M459.7 739.1h0M487.3 739.1h0M496.5 739.1h0M570.1 739.1h0M579.3 739.1h0M698.8 739.1h0M735.6 739.1h0M827.5 739.1h0M836.7 739.1h0M864.3 739.1h0M1048.2 739.1h0M478.1 748.3h0M579.3 748.3h0M588.5 748.3h0M689.6 748.3h0M818.3 748.3h0M349.4 757.5h0M450.5 757.5h0M459.7 757.5h0M551.7 757.5h0M579.3 757.5h0M588.5 757.5h0M680.4 757.5h0M698.8 757.5h0M708.0 757.5h0M717.2 757.5h0M800.0 757.5h0M818.3 757.5h0M1048.2 757.5h0M312.6 766.7h0M478.1 766.7h0M496.5 766.7h0M524.1 766.7h0M671.2 766.7h0M680.4 766.7h0M800.0 766.7h0M1048.2 766.7h0M413.8 775.9h0M441.3 775.9h0M468.9 775.9h0M524.1 775.9h0M533.3 775.9h0M570.1 775.9h0M588.5 775.9h0M616.0 775.9h0M634.4 775.9h0M662.0 775.9h0M680.4 775.9h0M698.8 775.9h0M717.2 775.9h0M754.0 775.9h0M800.0 775.9h0M1029.8 775.9h0M349.4 785.1h0M358.6 785.1h0M377.0 785.1h0M441.3 785.1h0M459.7 785.1h0M524.1 785.1h0M533.3 785.1h0M551.7 785.1h0M579.3 785.1h0M652.8 785.1h0M671.2 785.1h0M708.0 785.1h0M763.2 785.1h0M772.4 785.1h0M1002.2 785.1h0M1011.4 785.1h0M1029.8 785.1h0M1039.0 785.1h0M321.8 794.3h0M386.2 794.3h0M395.4 794.3h0M404.6 794.3h0M413.8 794.3h0M432.1 794.3h0M450.5 794.3h0M524.1 794.3h0M588.5 794.3h0M606.9 794.3h0M662.0 794.3h0M671.2 794.3h0M680.4 794.3h0M754.0 794.3h0M763.2 794.3h0M790.8 794.3h0M800.0 794.3h0M1002.2 794.3h0M358.6 803.5h0M367.8 803.5h0M377.0 803.5h0M386.2 803.5h0M404.6 803.5h0M423.0 803.5h0M432.1 803.5h0M579.3 803.5h0M588.5 803.5h0M597.7 803.5h0M606.9 803.5h0M616.0 803.5h0M652.8 803.5h0M763.2 803.5h0M993.0 803.5h0M1029.8 803.5h0M312.6 812.7h0M358.6 812.7h0M395.4 812.7h0M441.3 812.7h0M570.1 812.7h0M616.0 812.7h0M643.6 812.7h0M662.0 812.7h0M671.2 812.7h0M717.2 812.7h0M726.4 812.7h0M965.5 812.7h0M974.7 812.7h0M983.8 812.7h0M1020.6 812.7h0M1029.8 812.7h0M1039.0 812.7h0M1121.8 812.7h0M1131.0 812.7h0M1268.9 812.7h0M1278.1 812.7h0M625.2 821.9h0M744.8 821.9h0M754.0 821.9h0M781.6 821.9h0M882.7 821.9h0M891.9 821.9h0M956.3 821.9h0M983.8 821.9h0M1002.2 821.9h0M1029.8 821.9h0M1039.0 821.9h0M1121.8 821.9h0M1140.2 821.9h0M1149.4 821.9h0M1241.3 821.9h0M1250.5 821.9h0M1278.1 821.9h0M616.0 831.1h0M625.2 831.1h0M634.4 831.1h0M735.6 831.1h0M754.0 831.1h0M781.6 831.1h0M845.9 831.1h0M956.3 831.1h0M993.0 831.1h0M1011.4 831.1h0M1029.8 831.1h0M1039.0 831.1h0M1149.4 831.1h0M1232.1 831.1h0M634.4 840.3h0M735.6 840.3h0M772.4 840.3h0M864.3 840.3h0M873.5 840.3h0M882.7 840.3h0M956.3 840.3h0M993.0 840.3h0M1002.2 840.3h0M1011.4 840.3h0M1121.8 840.3h0M1268.9 840.3h0M643.6 849.5h0M652.8 849.5h0M744.8 849.5h0M763.2 849.5h0M781.6 849.5h0M845.9 849.5h0M882.7 849.5h0M974.7 849.5h0M1011.4 849.5h0M1039.0 849.5h0M1112.6 849.5h0M1121.8 849.5h0M1140.2 849.5h0M1149.4 849.5h0M1167.8 849.5h0M1241.3 849.5h0M1268.9 849.5h0M763.2 858.7h0M781.6 858.7h0M836.7 858.7h0M845.9 858.7h0M891.9 858.7h0M937.9 858.7h0M956.3 858.7h0M965.5 858.7h0M1140.2 858.7h0M1149.4 858.7h0M1241.3 858.7h0M616.0 867.9h0M625.2 867.9h0M643.6 867.9h0M744.8 867.9h0M754.0 867.9h0M836.7 867.9h0M845.9 867.9h0M855.1 867.9h0M873.5 867.9h0M993.0 867.9h0M1002.2 867.9h0M1011.4 867.9h0M1131.0 867.9h0M1140.2 867.9h0M1149.4 867.9h0M1158.6 867.9h0M1167.8 867.9h0M1176.9 867.9h0M1213.7 867.9h0M1232.1 867.9h0M606.9 877.1h0M625.2 877.1h0M643.6 877.1h0M652.8 877.1h0M708.0 877.1h0M763.2 877.1h0M790.8 877.1h0M855.1 877.1h0M864.3 877.1h0M956.3 877.1h0M1140.2 877.1h0M1213.7 877.1h0M625.2 886.3h0M643.6 886.3h0M717.2 886.3h0M726.4 886.3h0M744.8 886.3h0M763.2 886.3h0M772.4 886.3h0M855.1 886.3h0M882.7 886.3h0M937.9 886.3h0M965.5 886.3h0M1149.4 886.3h0M1167.8 886.3h0M1204.5 886.3h0M1222.9 886.3h0M1232.1 886.3h0M616.0 895.5h0M634.4 895.5h0M643.6 895.5h0M708.0 895.5h0M717.2 895.5h0M735.6 895.5h0M754.0 895.5h0M763.2 895.5h0M855.1 895.5h0M864.3 895.5h0M882.7 895.5h0M965.5 895.5h0M974.7 895.5h0M1066.6 895.5h0M1075.8 895.5h0M1140.2 895.5h0M1167.8 895.5h0M1176.9 895.5h0M1213.7 895.5h0M1222.9 895.5h0M1241.3 895.5h0M634.4 904.7h0M643.6 904.7h0M708.0 904.7h0M717.2 904.7h0M744.8 904.7h0M754.0 904.7h0M772.4 904.7h0M864.3 904.7h0M947.1 904.7h0M965.5 904.7h0M1149.4 904.7h0M1158.6 904.7h0M1176.9 904.7h0M634.4 913.9h0M652.8 913.9h0M708.0 913.9h0M717.2 913.9h0M800.0 913.9h0M947.1 913.9h0M1057.4 913.9h0M1066.6 913.9h0M1085.0 913.9h0M643.6 923.1h0M662.0 923.1h0M689.6 923.1h0M698.8 923.1h0M735.6 923.1h0M763.2 923.1h0M781.6 923.1h0M790.8 923.1h0M947.1 923.1h0M965.5 923.1h0M1195.3 923.1h0M1204.5 923.1h0M634.4 932.3h0M652.8 932.3h0M708.0 932.3h0M717.2 932.3h0M845.9 932.3h0M1020.6 932.3h0M643.6 941.5h0M698.8 941.5h0M763.2 941.5h0M836.7 941.5h0M864.3 941.5h0M873.5 941.5h0M947.1 941.5h0M1066.6 941.5h0M1075.8 941.5h0M1158.6 941.5h0M1167.8 941.5h0M1195.3 941.5h0M1213.7 941.5h0M634.4 950.7h0M652.8 950.7h0M772.4 950.7h0M809.1 950.7h0M919.5 950.7h0M928.7 950.7h0M956.3 950.7h0M974.7 950.7h0M1213.7 950.7h0M643.6 959.9h0M671.2 959.9h0M680.4 959.9h0M698.8 959.9h0M726.4 959.9h0M836.7 959.9h0M864.3 959.9h0M910.3 959.9h0M928.7 959.9h0M965.5 959.9h0M1002.2 959.9h0M1176.9 959.9h0M1195.3 959.9h0M1204.5 959.9h0M671.2 969.1h0M800.0 969.1h0M818.3 969.1h0M827.5 969.1h0M864.3 969.1h0M919.5 969.1h0M956.3 969.1h0M1066.6 969.1h0M1085.0 969.1h0M698.8 978.3h0M708.0 978.3h0M717.2 978.3h0M772.4 978.3h0M790.8 978.3h0M818.3 978.3h0M919.5 978.3h0M965.5 978.3h0M1057.4 978.3h0M1204.5 978.3h0M652.8 987.5h0M689.6 987.5h0M698.8 987.5h0M708.0 987.5h0M717.2 987.5h0M781.6 987.5h0M790.8 987.5h0M800.0 987.5h0M818.3 987.5h0M827.5 987.5h0M901.1 987.5h0M910.3 987.5h0M937.9 987.5h0M956.3 987.5h0M1066.6 987.5h0M1176.9 987.5h0M1204.5 987.5h0M643.6 996.7h0M652.8 996.7h0M708.0 996.7h0M717.2 996.7h0M800.0 996.7h0M809.1 996.7h0M910.3 996.7h0M937.9 996.7h0M1204.5 996.7h0M643.6 1005.9h0M671.2 1005.9h0M717.2 1005.9h0M772.4 1005.9h0M818.3 1005.9h0M855.1 1005.9h0M928.7 1005.9h0M1186.1 1005.9h0M1195.3 1005.9h0M698.8 1015.1h0M708.0 1015.1h0M800.0 1015.1h0M827.5 1015.1h0M845.9 1015.1h0M901.1 1015.1h0M910.3 1015.1h0M919.5 1015.1h0M947.1 1015.1h0M1176.9 1015.1h0M1204.5 1015.1h0"/>
<path stroke="#c4c4c4" d="M643.6 601.1h0M671.2 601.1h0M689.6 601.1h0M1002.2 601.1h0M1029.8 601.1h0M1121.8 601.1h0M386.2 610.3h0M441.3 610.3h0M634.4 610.3h0M671.2 610.3h0M689.6 610.3h0M726.4 610.3h0M735.6 610.3h0M910.3 610.3h0M965.5 610.3h0M993.0 610.3h0M1149.4 610.3h0M413.8 619.5h0M505.7 619.5h0M606.9 619.5h0M616.0 619.5h0M717.2 619.5h0M726.4 619.5h0M882.7 619.5h0M901.1 619.5h0M910.3 619.5h0M919.5 619.5h0M1002.2 619.5h0M1066.6 619.5h0M1140.2 619.5h0M1167.8 619.5h0M395.4 628.7h0M432.1 628.7h0M487.3 628.7h0M514.9 628.7h0M533.3 628.7h0M662.0 628.7h0M698.8 628.7h0M717.2 628.7h0M993.0 628.7h0M1075.8 628.7h0M1094.2 628.7h0M1103.4 628.7h0M1131.0 628.7h0M413.8 637.9h0M459.7 637.9h0M468.9 637.9h0M487.3 637.9h0M514.9 637.9h0M708.0 637.9h0M726.4 637.9h0M836.7 637.9h0M873.5 637.9h0M947.1 637.9h0M1002.2 637.9h0M1020.6 637.9h0M1057.4 637.9h0M505.7 647.1h0M616.0 647.1h0M754.0 647.1h0M983.8 647.1h0M993.0 647.1h0M1020.6 647.1h0M478.1 656.3h0M505.7 656.3h0M588.5 656.3h0M763.2 656.3h0M524.1 665.5h0M1066.6 665.5h0M1085.0 665.5h0M340.2 674.7h0M377.0 674.7h0M560.9 674.7h0M606.9 674.7h0M735.6 674.7h0M790.8 674.7h0M349.4 683.9h0M367.8 683.9h0M404.6 683.9h0M588.5 683.9h0M726.4 683.9h0M735.6 683.9h0M790.8 683.9h0M800.0 683.9h0M1066.6 683.9h0M377.0 693.1h0M459.7 693.1h0M487.3 693.1h0M551.7 693.1h0M726.4 693.1h0M836.7 693.1h0M873.5 693.1h0M928.7 693.1h0M1039.0 693.1h0M1075.8 693.1h0M377.0 702.3h0M395.4 702.3h0M404.6 702.3h0M459.7 702.3h0M570.1 702.3h0M836.7 702.3h0M855.1 702.3h0M891.9 702.3h0M1057.4 702.3h0M413.8 711.5h0M478.1 711.5h0M560.9 711.5h0M597.7 711.5h0M726.4 711.5h0M735.6 711.5h0M781.6 711.5h0M790.8 711.5h0M818.3 711.5h0M919.5 711.5h0M1020.6 711.5h0M377.0 720.7h0M404.6 720.7h0M478.1 720.7h0M505.7 720.7h0M560.9 720.7h0M717.2 720.7h0M735.6 720.7h0M800.0 720.7h0M809.1 720.7h0M855.1 720.7h0M423.0 729.9h0M432.1 729.9h0M441.3 729.9h0M809.1 729.9h0M845.9 729.9h0M891.9 729.9h0M1029.8 729.9h0M468.9 739.1h0M459.7 748.3h0M496.5 748.3h0M671.2 748.3h0M790.8 748.3h0M312.6 757.5h0M331.0 757.5h0M560.9 757.5h0M570.1 766.7h0M588.5 766.7h0M662.0 766.7h0M698.8 766.7h0M717.2 766.7h0M726.4 766.7h0M809.1 766.7h0M1029.8 766.7h0M331.0 775.9h0M404.6 775.9h0M423.0 775.9h0M487.3 775.9h0M542.5 775.9h0M560.9 775.9h0M606.9 775.9h0M708.0 775.9h0M1002.2 775.9h0M404.6 785.1h0M450.5 785.1h0M570.1 785.1h0M597.7 785.1h0M680.4 785.1h0M993.0 785.1h0M533.3 794.3h0M551.7 794.3h0M597.7 794.3h0M625.2 794.3h0M652.8 794.3h0M689.6 794.3h0M772.4 794.3h0M1020.6 794.3h0M312.6 803.5h0M441.3 803.5h0M459.7 803.5h0M468.9 803.5h0M533.3 803.5h0M790.8 803.5h0M983.8 803.5h0M340.2 812.7h0M404.6 812.7h0M588.5 812.7h0M763.2 812.7h0M781.6 812.7h0M855.1 812.7h0M882.7 812.7h0M1232.1 812.7h0M616.0 821.9h0M643.6 821.9h0M735.6 821.9h0M1011.4 821.9h0M1131.0 821.9h0M1232.1 821.9h0M763.2 831.1h0M873.5 831.1h0M965.5 831.1h0M1131.0 831.1h0M1250.5 831.1h0M744.8 840.3h0M974.7 840.3h0M1140.2 840.3h0M717.2 849.5h0M726.4 849.5h0M754.0 849.5h0M873.5 849.5h0M1002.2 849.5h0M1029.8 849.5h0M1131.0 849.5h0M1259.7 849.5h0M744.8 858.7h0M873.5 858.7h0M974.7 858.7h0M993.0 858.7h0M1121.8 858.7h0M1167.8 858.7h0M735.6 867.9h0M882.7 867.9h0M983.8 867.9h0M1121.8 867.9h0M616.0 877.1h0M772.4 877.1h0M873.5 877.1h0M965.5 877.1h0M974.7 877.1h0M1232.1 877.1h0M1250.5 877.1h0M735.6 886.3h0M790.8 886.3h0M845.9 886.3h0M983.8 886.3h0M625.2 895.5h0M698.8 895.5h0M744.8 895.5h0M836.7 895.5h0M873.5 895.5h0M1011.4 895.5h0M1085.0 895.5h0M1158.6 895.5h0M1186.1 895.5h0M616.0 904.7h0M781.6 904.7h0M836.7 904.7h0M1075.8 904.7h0M1222.9 904.7h0M616.0 913.9h0M698.8 913.9h0M726.4 913.9h0M836.7 913.9h0M855.1 913.9h0M864.3 913.9h0M974.7 913.9h0M1075.8 913.9h0M1176.9 913.9h0M1186.1 913.9h0M625.2 923.1h0M634.4 923.1h0M708.0 923.1h0M754.0 923.1h0M1057.4 923.1h0M1075.8 923.1h0M1085.0 923.1h0M1149.4 923.1h0M1186.1 923.1h0M763.2 932.3h0M928.7 932.3h0M947.1 932.3h0M965.5 932.3h0M1176.9 932.3h0M1186.1 932.3h0M1195.3 932.3h0M625.2 941.5h0M662.0 941.5h0M800.0 941.5h0M662.0 950.7h0M698.8 950.7h0M717.2 950.7h0M937.9 950.7h0M993.0 950.7h0M1002.2 950.7h0M1167.8 950.7h0M717.2 959.9h0M845.9 959.9h0M937.9 959.9h0M993.0 959.9h0M1167.8 959.9h0M1186.1 959.9h0M634.4 969.1h0M643.6 969.1h0M790.8 969.1h0M809.1 969.1h0M836.7 969.1h0M845.9 969.1h0M947.1 969.1h0M993.0 969.1h0M1167.8 969.1h0M947.1 978.3h0M993.0 978.3h0M1085.0 978.3h0M643.6 987.5h0M836.7 987.5h0M855.1 987.5h0M928.7 987.5h0M1057.4 987.5h0M781.6 996.7h0M818.3 996.7h0M845.9 996.7h0M928.7 996.7h0M1176.9 996.7h0M662.0 1005.9h0M781.6 1005.9h0M790.8 1005.9h0M827.5 1005.9h0M919.5 1005.9h0M1176.9 1005.9h0M1204.5 1005.9h0M1213.7 1005.9h0M790.8 1015.1h0M1195.3 1015.1h0"/>
</g>
</svg>
</body></html>
